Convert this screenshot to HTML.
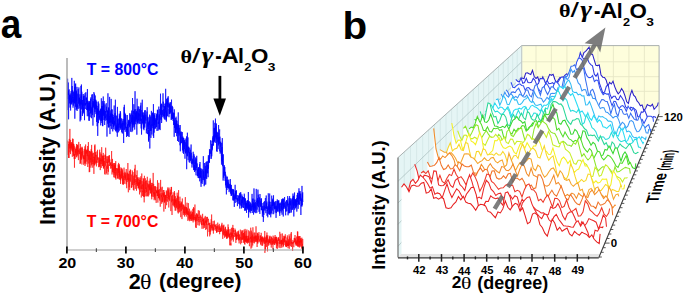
<!DOCTYPE html>
<html><head><meta charset="utf-8"><style>
html,body{margin:0;padding:0;background:#fff;width:685px;height:296px;overflow:hidden}
svg{display:block}
text{font-family:"Liberation Sans",sans-serif;font-weight:bold}
.sf{font-family:"Liberation Serif",serif}
</style></head><body>
<svg width="685" height="296" viewBox="0 0 685 296">
<g fill="none" stroke-width="0.7" stroke-linejoin="miter">
<polyline points="67.50,143.6 67.62,140.6 67.74,146.9 67.86,150.8 67.98,154.9 68.10,149.1 68.22,145.3 68.34,144.0 68.46,152.9 68.58,158.0 68.70,150.2 68.82,141.6 68.94,143.2 69.06,158.0 69.18,150.0 69.30,138.9 69.42,148.4 69.54,142.3 69.66,145.4 69.78,146.3 69.90,128.9 70.02,152.4 70.14,148.8 70.26,145.8 70.38,151.7 70.50,154.1 70.62,139.9 70.74,148.0 70.86,143.8 70.98,148.5 71.10,142.1 71.22,149.7 71.34,149.5 71.46,148.0 71.58,143.7 71.70,147.5 71.82,143.6 71.94,142.1 72.06,151.2 72.18,143.6 72.30,156.8 72.42,154.2 72.54,138.6 72.66,151.7 72.78,143.9 72.90,150.5 73.02,150.6 73.14,138.9 73.26,149.1 73.38,149.0 73.50,156.1 73.62,143.7 73.74,154.9 73.86,144.3 73.98,148.8 74.10,145.9 74.22,159.1 74.34,154.1 74.46,167.7 74.58,154.6 74.70,155.8 74.82,155.9 74.94,147.6 75.06,150.7 75.18,158.9 75.30,148.9 75.42,152.3 75.54,151.2 75.66,154.8 75.78,149.3 75.90,150.5 76.02,152.9 76.14,152.1 76.26,146.6 76.38,156.8 76.50,144.2 76.62,144.8 76.74,144.3 76.86,157.4 76.98,149.8 77.10,146.3 77.22,145.4 77.34,154.4 77.46,145.9 77.58,144.7 77.70,155.7 77.82,145.3 77.94,150.3 78.06,152.2 78.18,149.7 78.30,152.0 78.42,160.1 78.54,149.5 78.66,145.2 78.78,141.9 78.90,151.4 79.02,150.6 79.14,154.2 79.26,150.0 79.38,150.0 79.50,148.6 79.62,149.9 79.74,153.8 79.86,150.7 79.98,153.6 80.10,164.0 80.22,155.8 80.34,144.0 80.46,163.2 80.58,155.2 80.70,147.8 80.82,158.5 80.94,153.4 81.06,149.8 81.18,149.8 81.30,147.7 81.42,153.8 81.54,159.7 81.66,151.7 81.78,156.1 81.90,164.5 82.02,146.7 82.14,155.2 82.26,152.0 82.38,147.7 82.50,148.0 82.62,153.8 82.74,156.5 82.86,150.9 82.98,154.4 83.10,158.3 83.22,155.8 83.34,159.2 83.46,156.9 83.58,157.1 83.70,164.8 83.82,157.9 83.94,155.1 84.06,158.5 84.18,149.2 84.30,152.6 84.42,159.1 84.54,158.2 84.66,163.6 84.78,154.7 84.90,146.3 85.02,166.0 85.14,161.1 85.26,148.7 85.38,162.8 85.50,155.1 85.62,144.5 85.74,152.6 85.86,152.1 85.98,164.3 86.10,150.6 86.22,153.7 86.34,153.6 86.46,153.1 86.58,150.0 86.70,156.6 86.82,161.6 86.94,159.0 87.06,150.1 87.18,148.9 87.30,156.2 87.42,151.5 87.54,152.0 87.66,146.0 87.78,167.0 87.90,161.1 88.02,150.2 88.14,161.1 88.26,163.6 88.38,142.1 88.50,152.8 88.62,153.8 88.74,159.8 88.86,155.4 88.98,154.8 89.10,155.8 89.22,172.2 89.34,168.7 89.46,153.3 89.58,151.0 89.70,171.9 89.82,150.8 89.94,153.2 90.06,156.7 90.18,159.4 90.30,162.5 90.42,158.9 90.54,151.7 90.66,159.7 90.78,158.2 90.90,167.7 91.02,156.8 91.14,149.2 91.26,150.9 91.38,165.4 91.50,153.9 91.62,144.9 91.74,153.8 91.86,157.2 91.98,164.1 92.10,151.4 92.22,161.1 92.34,161.9 92.46,153.3 92.58,156.3 92.70,167.7 92.82,167.4 92.94,162.5 93.06,159.5 93.18,164.2 93.30,156.8 93.42,157.1 93.54,152.8 93.66,157.8 93.78,157.3 93.90,173.9 94.02,156.8 94.14,165.3 94.26,165.6 94.38,157.0 94.50,164.8 94.62,145.5 94.74,158.7 94.86,163.2 94.98,144.4 95.10,151.6 95.22,164.4 95.34,156.9 95.46,152.1 95.58,156.3 95.70,155.4 95.82,162.7 95.94,161.2 96.06,157.0 96.18,154.8 96.30,158.4 96.42,166.4 96.54,160.8 96.66,162.5 96.78,158.0 96.90,151.5 97.02,154.9 97.14,162.8 97.26,159.6 97.38,153.9 97.50,149.8 97.62,159.8 97.74,157.2 97.86,157.2 97.98,157.4 98.10,161.0 98.22,161.1 98.34,165.0 98.46,164.8 98.58,167.2 98.70,164.2 98.82,157.6 98.94,159.3 99.06,162.5 99.18,157.9 99.30,162.9 99.42,166.5 99.54,155.2 99.66,149.7 99.78,166.8 99.90,160.1 100.02,164.1 100.14,152.4 100.26,170.1 100.38,164.5 100.50,159.5 100.62,158.3 100.74,161.0 100.86,159.5 100.98,158.9 101.10,154.1 101.22,167.9 101.34,160.4 101.46,161.2 101.58,161.3 101.70,147.2 101.82,164.0 101.94,159.1 102.06,159.4 102.18,161.5 102.30,155.5 102.42,166.1 102.54,157.3 102.66,156.1 102.78,156.4 102.90,162.4 103.02,165.8 103.14,158.1 103.26,152.9 103.38,167.8 103.50,155.6 103.62,168.7 103.74,161.6 103.86,157.9 103.98,158.3 104.10,164.7 104.22,167.2 104.34,161.0 104.46,167.7 104.58,174.3 104.70,161.1 104.82,155.8 104.94,156.4 105.06,154.5 105.18,158.9 105.30,158.5 105.42,155.1 105.54,165.8 105.66,147.7 105.78,155.3 105.90,174.6 106.02,169.0 106.14,166.1 106.26,165.8 106.38,173.4 106.50,166.3 106.62,163.8 106.74,156.3 106.86,163.0 106.98,159.3 107.10,159.5 107.22,159.5 107.34,163.4 107.46,161.8 107.58,168.8 107.70,156.2 107.82,162.9 107.94,174.7 108.06,164.3 108.18,171.0 108.30,170.7 108.42,171.8 108.54,168.5 108.66,156.4 108.78,162.8 108.90,162.3 109.02,155.6 109.14,161.9 109.26,157.4 109.38,155.1 109.50,166.0 109.62,164.6 109.74,160.9 109.86,159.4 109.98,161.9 110.10,162.8 110.22,162.8 110.34,165.0 110.46,162.9 110.58,167.7 110.70,168.6 110.82,167.7 110.94,162.0 111.06,162.3 111.18,168.4 111.30,164.9 111.42,165.9 111.54,152.0 111.66,151.0 111.78,168.3 111.90,168.4 112.02,174.5 112.14,170.8 112.26,168.1 112.38,167.0 112.50,158.9 112.62,172.1 112.74,163.8 112.86,170.1 112.98,168.5 113.10,169.0 113.22,172.6 113.34,164.9 113.46,165.6 113.58,163.1 113.70,165.9 113.82,177.3 113.94,166.1 114.06,174.8 114.18,172.9 114.30,172.5 114.42,173.0 114.54,163.0 114.66,170.8 114.78,177.6 114.90,165.1 115.02,168.8 115.14,165.3 115.26,171.0 115.38,163.4 115.50,178.2 115.62,167.4 115.74,161.1 115.86,179.5 115.98,175.1 116.10,172.7 116.22,172.9 116.34,168.1 116.46,169.0 116.58,174.2 116.70,175.3 116.82,175.5 116.94,171.7 117.06,168.1 117.18,169.7 117.30,176.8 117.42,178.7 117.54,169.2 117.66,168.6 117.78,177.9 117.90,175.2 118.02,175.1 118.14,164.5 118.26,169.6 118.38,169.0 118.50,172.9 118.62,162.9 118.74,178.8 118.86,173.7 118.98,174.5 119.10,166.0 119.22,172.2 119.34,179.5 119.46,164.3 119.58,174.3 119.70,176.4 119.82,169.2 119.94,177.2 120.06,171.3 120.18,179.6 120.30,176.0 120.42,174.5 120.54,183.9 120.66,177.8 120.78,180.4 120.90,167.4 121.02,170.3 121.14,178.2 121.26,178.6 121.38,173.7 121.50,178.1 121.62,168.6 121.74,175.3 121.86,168.3 121.98,176.2 122.10,171.9 122.22,171.2 122.34,174.9 122.46,184.3 122.58,169.5 122.70,171.7 122.82,180.6 122.94,172.8 123.06,184.4 123.18,176.4 123.30,175.8 123.42,177.3 123.54,184.6 123.66,179.0 123.78,178.4 123.90,177.1 124.02,167.6 124.14,171.3 124.26,183.8 124.38,180.4 124.50,178.8 124.62,179.6 124.74,173.5 124.86,178.2 124.98,171.8 125.10,178.6 125.22,172.9 125.34,175.6 125.46,179.2 125.58,175.2 125.70,180.4 125.82,179.5 125.94,179.0 126.06,184.2 126.18,169.6 126.30,169.0 126.42,180.7 126.54,182.5 126.66,188.2 126.78,181.7 126.90,182.2 127.02,173.3 127.14,181.9 127.26,181.6 127.38,172.6 127.50,173.5 127.62,177.8 127.74,179.9 127.86,163.0 127.98,179.0 128.10,179.9 128.22,177.8 128.34,192.3 128.46,181.3 128.58,173.7 128.70,181.3 128.82,177.9 128.94,174.3 129.06,180.4 129.18,187.2 129.30,171.8 129.42,170.9 129.54,171.0 129.66,190.1 129.78,178.5 129.90,179.6 130.02,175.9 130.14,175.1 130.26,169.5 130.38,181.0 130.50,181.6 130.62,169.9 130.74,174.8 130.86,176.4 130.98,180.3 131.10,181.7 131.22,186.4 131.34,187.7 131.46,186.2 131.58,187.7 131.70,174.6 131.82,177.8 131.94,186.8 132.06,182.3 132.18,181.0 132.30,170.5 132.42,171.2 132.54,184.9 132.66,182.9 132.78,179.6 132.90,179.0 133.02,172.1 133.14,183.2 133.26,186.7 133.38,190.0 133.50,181.7 133.62,180.4 133.74,175.7 133.86,188.0 133.98,190.6 134.10,178.4 134.22,183.2 134.34,182.2 134.46,178.8 134.58,168.7 134.70,180.0 134.82,185.1 134.94,174.4 135.06,177.6 135.18,164.8 135.30,188.9 135.42,184.8 135.54,182.5 135.66,180.8 135.78,179.0 135.90,181.9 136.02,180.8 136.14,181.2 136.26,182.3 136.38,183.2 136.50,190.7 136.62,175.0 136.74,184.1 136.86,179.5 136.98,176.8 137.10,170.4 137.22,186.1 137.34,177.7 137.46,179.0 137.58,185.4 137.70,177.3 137.82,183.2 137.94,182.7 138.06,187.4 138.18,188.5 138.30,178.7 138.42,188.1 138.54,182.9 138.66,184.1 138.78,182.3 138.90,187.6 139.02,177.2 139.14,185.0 139.26,189.8 139.38,182.2 139.50,194.4 139.62,179.9 139.74,185.0 139.86,181.4 139.98,180.7 140.10,178.1 140.22,181.2 140.34,183.8 140.46,180.0 140.58,188.9 140.70,192.3 140.82,176.3 140.94,188.8 141.06,185.5 141.18,185.8 141.30,197.5 141.42,191.0 141.54,186.5 141.66,185.7 141.78,173.5 141.90,189.0 142.02,181.1 142.14,186.0 142.26,185.6 142.38,190.2 142.50,195.9 142.62,190.5 142.74,192.1 142.86,184.2 142.98,187.9 143.10,189.6 143.22,178.1 143.34,196.4 143.46,182.0 143.58,179.1 143.70,194.4 143.82,197.0 143.94,182.3 144.06,182.8 144.18,202.4 144.30,186.7 144.42,175.8 144.54,183.1 144.66,196.8 144.78,189.9 144.90,190.4 145.02,192.9 145.14,190.1 145.26,184.9 145.38,178.3 145.50,189.1 145.62,181.0 145.74,186.6 145.86,196.2 145.98,189.8 146.10,187.4 146.22,187.5 146.34,191.0 146.46,192.1 146.58,180.4 146.70,188.3 146.82,196.4 146.94,191.4 147.06,183.5 147.18,184.0 147.30,176.8 147.42,183.5 147.54,196.2 147.66,187.5 147.78,183.4 147.90,184.9 148.02,187.4 148.14,187.5 148.26,186.3 148.38,184.2 148.50,191.6 148.62,196.4 148.74,185.4 148.86,185.6 148.98,194.7 149.10,180.9 149.22,185.5 149.34,186.7 149.46,189.6 149.58,187.3 149.70,184.2 149.82,190.5 149.94,182.7 150.06,179.9 150.18,178.4 150.30,193.1 150.42,180.1 150.54,191.6 150.66,192.9 150.78,193.6 150.90,188.5 151.02,186.6 151.14,190.0 151.26,186.5 151.38,182.9 151.50,196.3 151.62,185.1 151.74,199.3 151.86,192.6 151.98,187.6 152.10,192.3 152.22,196.6 152.34,182.9 152.46,185.4 152.58,184.8 152.70,191.2 152.82,192.5 152.94,190.6 153.06,186.7 153.18,172.9 153.30,196.9 153.42,196.6 153.54,191.5 153.66,183.9 153.78,194.2 153.90,192.5 154.02,192.3 154.14,200.2 154.26,195.4 154.38,186.1 154.50,186.2 154.62,198.6 154.74,192.5 154.86,196.1 154.98,190.9 155.10,186.6 155.22,193.3 155.34,200.2 155.46,193.8 155.58,186.2 155.70,190.6 155.82,189.7 155.94,193.3 156.06,197.8 156.18,202.9 156.30,193.8 156.42,190.4 156.54,193.2 156.66,192.9 156.78,190.7 156.90,193.1 157.02,193.0 157.14,186.9 157.26,196.0 157.38,191.3 157.50,180.2 157.62,195.9 157.74,190.8 157.86,202.6 157.98,196.0 158.10,193.9 158.22,189.6 158.34,191.5 158.46,198.1 158.58,190.1 158.70,197.8 158.82,182.8 158.94,194.9 159.06,198.2 159.18,195.8 159.30,194.0 159.42,199.4 159.54,189.7 159.66,189.1 159.78,194.8 159.90,200.7 160.02,196.7 160.14,193.4 160.26,206.7 160.38,196.9 160.50,188.1 160.62,179.9 160.74,189.3 160.86,186.9 160.98,191.7 161.10,188.5 161.22,190.3 161.34,197.2 161.46,195.5 161.58,194.9 161.70,203.8 161.82,192.7 161.94,193.2 162.06,201.9 162.18,189.5 162.30,186.8 162.42,202.3 162.54,197.3 162.66,198.7 162.78,199.0 162.90,200.4 163.02,193.2 163.14,195.4 163.26,190.0 163.38,196.6 163.50,197.2 163.62,193.6 163.74,199.6 163.86,211.6 163.98,190.1 164.10,200.6 164.22,201.3 164.34,202.0 164.46,192.2 164.58,202.8 164.70,200.0 164.82,196.0 164.94,194.9 165.06,198.0 165.18,201.7 165.30,201.5 165.42,208.9 165.54,195.1 165.66,200.3 165.78,194.9 165.90,201.3 166.02,197.9 166.14,194.1 166.26,190.4 166.38,193.3 166.50,198.7 166.62,205.2 166.74,201.6 166.86,191.3 166.98,195.0 167.10,197.8 167.22,196.9 167.34,197.9 167.46,201.7 167.58,198.7 167.70,193.9 167.82,187.4 167.94,195.8 168.06,188.8 168.18,196.7 168.30,199.2 168.42,190.5 168.54,196.8 168.66,195.7 168.78,207.5 168.90,199.9 169.02,187.6 169.14,199.9 169.26,199.7 169.38,196.5 169.50,195.6 169.62,200.8 169.74,201.1 169.86,199.9 169.98,192.5 170.10,196.4 170.22,189.6 170.34,190.0 170.46,195.0 170.58,192.5 170.70,195.9 170.82,211.1 170.94,200.8 171.06,193.6 171.18,187.0 171.30,194.0 171.42,190.9 171.54,186.9 171.66,202.3 171.78,196.1 171.90,201.0 172.02,215.0 172.14,200.3 172.26,199.5 172.38,200.8 172.50,197.7 172.62,194.8 172.74,198.1 172.86,205.3 172.98,198.0 173.10,192.3 173.22,193.1 173.34,194.3 173.46,199.9 173.58,202.4 173.70,202.5 173.82,206.3 173.94,199.1 174.06,204.7 174.18,202.2 174.30,204.3 174.42,191.0 174.54,207.4 174.66,192.8 174.78,195.1 174.90,205.3 175.02,199.2 175.14,210.7 175.26,202.3 175.38,196.2 175.50,202.5 175.62,199.7 175.74,210.1 175.86,210.6 175.98,206.0 176.10,200.1 176.22,202.7 176.34,207.9 176.46,198.3 176.58,198.4 176.70,207.1 176.82,206.6 176.94,201.6 177.06,201.5 177.18,192.7 177.30,209.3 177.42,202.5 177.54,195.7 177.66,197.4 177.78,198.7 177.90,212.4 178.02,207.2 178.14,196.7 178.26,213.5 178.38,210.9 178.50,198.4 178.62,190.1 178.74,209.2 178.86,201.0 178.98,203.6 179.10,201.6 179.22,211.1 179.34,212.3 179.46,208.9 179.58,203.9 179.70,206.2 179.82,208.1 179.94,196.7 180.06,211.6 180.18,203.5 180.30,206.6 180.42,206.1 180.54,210.2 180.66,211.2 180.78,217.2 180.90,204.0 181.02,201.3 181.14,206.8 181.26,202.8 181.38,210.8 181.50,202.3 181.62,207.2 181.74,211.5 181.86,212.0 181.98,219.1 182.10,214.3 182.22,213.7 182.34,198.5 182.46,209.2 182.58,208.4 182.70,206.1 182.82,204.4 182.94,208.0 183.06,209.9 183.18,209.4 183.30,215.1 183.42,213.3 183.54,205.4 183.66,204.6 183.78,212.9 183.90,205.2 184.02,209.6 184.14,211.3 184.26,214.2 184.38,211.7 184.50,216.5 184.62,207.1 184.74,212.8 184.86,206.3 184.98,210.6 185.10,210.4 185.22,205.3 185.34,197.1 185.46,214.9 185.58,212.0 185.70,211.0 185.82,207.0 185.94,208.9 186.06,212.9 186.18,210.9 186.30,216.6 186.42,211.6 186.54,207.1 186.66,214.2 186.78,208.2 186.90,212.5 187.02,202.7 187.14,209.9 187.26,214.4 187.38,208.6 187.50,211.8 187.62,214.9 187.74,212.4 187.86,220.9 187.98,211.1 188.10,211.6 188.22,211.8 188.34,203.1 188.46,205.4 188.58,215.4 188.70,211.4 188.82,219.7 188.94,212.8 189.06,212.5 189.18,218.3 189.30,214.8 189.42,221.2 189.54,208.7 189.66,215.9 189.78,217.2 189.90,216.7 190.02,219.6 190.14,219.1 190.26,214.5 190.38,211.7 190.50,219.0 190.62,214.7 190.74,219.1 190.86,221.0 190.98,215.7 191.10,210.6 191.22,213.7 191.34,218.7 191.46,214.0 191.58,220.6 191.70,215.4 191.82,215.9 191.94,212.5 192.06,215.0 192.18,220.6 192.30,214.0 192.42,214.1 192.54,212.1 192.66,219.3 192.78,208.8 192.90,212.8 193.02,220.0 193.14,222.4 193.26,214.9 193.38,220.4 193.50,207.1 193.62,219.5 193.74,217.5 193.86,210.7 193.98,208.2 194.10,214.0 194.22,217.6 194.34,218.1 194.46,217.0 194.58,220.0 194.70,219.7 194.82,210.5 194.94,204.5 195.06,214.5 195.18,221.4 195.30,214.7 195.42,221.4 195.54,217.4 195.66,227.5 195.78,216.9 195.90,217.2 196.02,216.8 196.14,218.0 196.26,228.0 196.38,215.2 196.50,213.7 196.62,216.7 196.74,220.5 196.86,213.3 196.98,221.2 197.10,221.1 197.22,217.1 197.34,216.8 197.46,214.5 197.58,216.8 197.70,214.6 197.82,223.5 197.94,225.2 198.06,217.0 198.18,218.1 198.30,210.2 198.42,216.1 198.54,219.9 198.66,219.7 198.78,219.1 198.90,222.2 199.02,219.0 199.14,217.1 199.26,225.6 199.38,210.7 199.50,214.0 199.62,215.8 199.74,215.9 199.86,215.8 199.98,218.2 200.10,216.2 200.22,219.0 200.34,221.8 200.46,219.5 200.58,220.0 200.70,215.6 200.82,214.8 200.94,218.4 201.06,223.5 201.18,221.3 201.30,224.3 201.42,224.0 201.54,224.6 201.66,216.7 201.78,225.2 201.90,223.3 202.02,228.8 202.14,222.8 202.26,221.7 202.38,219.9 202.50,221.2 202.62,213.8 202.74,219.7 202.86,220.6 202.98,224.9 203.10,218.2 203.22,221.5 203.34,228.6 203.46,219.0 203.58,224.7 203.70,219.1 203.82,220.9 203.94,223.3 204.06,225.1 204.18,219.5 204.30,217.5 204.42,227.9 204.54,222.5 204.66,225.1 204.78,225.6 204.90,225.1 205.02,221.0 205.14,221.6 205.26,215.9 205.38,223.0 205.50,220.5 205.62,222.3 205.74,230.0 205.86,225.3 205.98,222.9 206.10,217.2 206.22,225.7 206.34,229.0 206.46,219.6 206.58,224.7 206.70,221.0 206.82,222.5 206.94,221.8 207.06,216.8 207.18,221.3 207.30,217.0 207.42,229.0 207.54,236.4 207.66,233.0 207.78,224.8 207.90,224.0 208.02,224.6 208.14,224.7 208.26,223.1 208.38,223.4 208.50,218.8 208.62,220.3 208.74,221.9 208.86,225.2 208.98,223.0 209.10,232.0 209.22,223.8 209.34,223.3 209.46,226.4 209.58,228.8 209.70,236.4 209.82,228.8 209.94,222.7 210.06,224.4 210.18,229.2 210.30,234.5 210.42,228.4 210.54,225.0 210.66,231.6 210.78,231.0 210.90,229.8 211.02,226.1 211.14,219.3 211.26,220.4 211.38,226.9 211.50,228.2 211.62,214.5 211.74,224.0 211.86,230.3 211.98,229.6 212.10,224.0 212.22,228.4 212.34,226.2 212.46,225.3 212.58,230.4 212.70,230.5 212.82,224.2 212.94,222.7 213.06,221.4 213.18,221.0 213.30,231.5 213.42,233.6 213.54,227.3 213.66,230.6 213.78,224.1 213.90,226.4 214.02,230.2 214.14,228.0 214.26,226.7 214.38,220.6 214.50,221.5 214.62,225.4 214.74,225.0 214.86,226.8 214.98,224.8 215.10,226.4 215.22,227.5 215.34,229.2 215.46,227.6 215.58,225.3 215.70,226.4 215.82,230.8 215.94,226.8 216.06,224.0 216.18,223.9 216.30,228.7 216.42,229.8 216.54,232.3 216.66,226.6 216.78,232.9 216.90,226.6 217.02,227.1 217.14,225.9 217.26,229.9 217.38,231.9 217.50,228.0 217.62,226.3 217.74,222.6 217.86,228.8 217.98,227.0 218.10,227.6 218.22,226.1 218.34,225.3 218.46,226.9 218.58,230.1 218.70,232.0 218.82,228.6 218.94,229.8 219.06,228.0 219.18,228.3 219.30,223.9 219.42,232.0 219.54,231.0 219.66,234.2 219.78,226.8 219.90,229.5 220.02,225.8 220.14,230.0 220.26,228.8 220.38,231.7 220.50,228.8 220.62,231.7 220.74,227.7 220.86,231.6 220.98,228.5 221.10,228.1 221.22,230.0 221.34,231.1 221.46,224.8 221.58,224.5 221.70,230.6 221.82,229.8 221.94,222.8 222.06,224.0 222.18,227.4 222.30,231.4 222.42,231.0 222.54,233.9 222.66,234.6 222.78,238.9 222.90,225.4 223.02,230.5 223.14,234.5 223.26,226.3 223.38,225.8 223.50,231.5 223.62,234.8 223.74,235.4 223.86,224.7 223.98,226.8 224.10,230.8 224.22,229.3 224.34,232.4 224.46,231.8 224.58,237.7 224.70,231.2 224.82,232.2 224.94,231.8 225.06,235.6 225.18,227.7 225.30,233.1 225.42,229.1 225.54,226.8 225.66,236.2 225.78,233.9 225.90,237.1 226.02,233.0 226.14,234.5 226.26,232.8 226.38,234.4 226.50,230.9 226.62,238.6 226.74,229.4 226.86,238.7 226.98,231.9 227.10,235.8 227.22,233.3 227.34,234.4 227.46,238.2 227.58,233.5 227.70,229.7 227.82,234.0 227.94,235.5 228.06,224.4 228.18,236.8 228.30,237.3 228.42,227.1 228.54,232.9 228.66,236.5 228.78,229.4 228.90,232.1 229.02,232.5 229.14,235.8 229.26,237.8 229.38,233.8 229.50,234.2 229.62,237.3 229.74,245.3 229.86,233.7 229.98,239.0 230.10,229.1 230.22,234.8 230.34,232.8 230.46,232.5 230.58,235.1 230.70,244.9 230.82,243.3 230.94,245.6 231.06,235.7 231.18,240.5 231.30,238.2 231.42,227.8 231.54,235.0 231.66,237.3 231.78,232.5 231.90,235.8 232.02,233.1 232.14,236.1 232.26,228.9 232.38,227.7 232.50,232.8 232.62,235.7 232.74,239.7 232.86,224.9 232.98,232.2 233.10,238.3 233.22,235.1 233.34,241.6 233.46,234.7 233.58,228.0 233.70,232.2 233.82,231.7 233.94,230.1 234.06,232.4 234.18,232.7 234.30,234.2 234.42,233.3 234.54,236.8 234.66,236.8 234.78,236.0 234.90,236.1 235.02,228.6 235.14,229.4 235.26,232.3 235.38,236.5 235.50,230.2 235.62,234.1 235.74,236.5 235.86,242.9 235.98,236.6 236.10,233.8 236.22,239.7 236.34,236.5 236.46,234.7 236.58,239.9 236.70,232.5 236.82,236.6 236.94,236.2 237.06,239.2 237.18,231.8 237.30,231.3 237.42,234.6 237.54,235.0 237.66,236.2 237.78,234.7 237.90,237.7 238.02,238.7 238.14,237.0 238.26,232.4 238.38,240.4 238.50,230.7 238.62,235.5 238.74,239.6 238.86,234.1 238.98,241.1 239.10,243.4 239.22,242.2 239.34,238.0 239.46,240.1 239.58,234.6 239.70,238.0 239.82,238.2 239.94,237.0 240.06,237.2 240.18,235.9 240.30,229.6 240.42,238.2 240.54,237.9 240.66,244.3 240.78,239.4 240.90,237.1 241.02,240.1 241.14,239.2 241.26,236.9 241.38,235.6 241.50,231.7 241.62,237.5 241.74,243.0 241.86,230.3 241.98,233.7 242.10,240.0 242.22,237.9 242.34,238.8 242.46,230.5 242.58,235.2 242.70,239.2 242.82,239.5 242.94,238.5 243.06,234.2 243.18,239.5 243.30,233.1 243.42,234.1 243.54,233.3 243.66,242.9 243.78,236.1 243.90,237.9 244.02,229.7 244.14,241.7 244.26,239.5 244.38,231.7 244.50,232.0 244.62,243.9 244.74,234.4 244.86,244.7 244.98,236.2 245.10,228.9 245.22,242.0 245.34,239.8 245.46,240.5 245.58,236.2 245.70,237.2 245.82,241.5 245.94,235.0 246.06,230.8 246.18,241.4 246.30,235.8 246.42,242.8 246.54,236.3 246.66,236.5 246.78,237.2 246.90,229.5 247.02,242.5 247.14,235.9 247.26,237.5 247.38,243.6 247.50,238.6 247.62,241.5 247.74,239.5 247.86,241.1 247.98,239.3 248.10,242.5 248.22,237.5 248.34,240.0 248.46,235.7 248.58,242.7 248.70,230.3 248.82,239.0 248.94,239.7 249.06,239.6 249.18,238.3 249.30,243.3 249.42,246.2 249.54,236.2 249.66,231.4 249.78,234.4 249.90,235.5 250.02,238.0 250.14,238.3 250.26,242.4 250.38,236.9 250.50,238.4 250.62,238.9 250.74,227.7 250.86,237.4 250.98,248.7 251.10,238.2 251.22,235.0 251.34,230.6 251.46,242.4 251.58,237.4 251.70,236.3 251.82,247.6 251.94,243.9 252.06,232.4 252.18,237.4 252.30,242.3 252.42,241.8 252.54,234.6 252.66,245.2 252.78,245.5 252.90,227.3 253.02,232.3 253.14,233.6 253.26,241.2 253.38,242.7 253.50,239.5 253.62,236.6 253.74,238.5 253.86,240.9 253.98,234.4 254.10,232.6 254.22,238.5 254.34,243.4 254.46,239.6 254.58,239.6 254.70,236.4 254.82,242.3 254.94,232.6 255.06,238.7 255.18,236.7 255.30,238.4 255.42,235.5 255.54,241.7 255.66,238.7 255.78,236.8 255.90,240.9 256.02,226.3 256.14,237.1 256.26,236.8 256.38,241.9 256.50,235.6 256.62,238.2 256.74,238.1 256.86,240.2 256.98,238.4 257.10,247.0 257.22,232.7 257.34,241.3 257.46,239.0 257.58,243.2 257.70,233.2 257.82,243.6 257.94,234.1 258.06,241.7 258.18,241.1 258.30,239.3 258.42,236.5 258.54,236.2 258.66,239.6 258.78,236.5 258.90,232.1 259.02,232.6 259.14,242.2 259.26,242.3 259.38,241.2 259.50,239.5 259.62,240.7 259.74,241.2 259.86,240.3 259.98,236.5 260.10,236.7 260.22,235.2 260.34,240.0 260.46,235.8 260.58,238.9 260.70,244.3 260.82,238.1 260.94,243.1 261.06,245.2 261.18,232.8 261.30,234.3 261.42,241.3 261.54,236.9 261.66,241.5 261.78,242.2 261.90,237.7 262.02,242.6 262.14,246.0 262.26,243.1 262.38,236.4 262.50,239.1 262.62,237.7 262.74,245.4 262.86,239.0 262.98,237.2 263.10,239.9 263.22,241.6 263.34,238.4 263.46,240.2 263.58,239.8 263.70,242.5 263.82,243.4 263.94,240.8 264.06,238.1 264.18,241.3 264.30,236.6 264.42,243.8 264.54,241.2 264.66,240.8 264.78,231.0 264.90,252.9 265.02,245.3 265.14,244.6 265.26,240.4 265.38,242.5 265.50,250.5 265.62,237.5 265.74,242.8 265.86,242.3 265.98,240.6 266.10,241.4 266.22,236.5 266.34,242.5 266.46,235.3 266.58,246.9 266.70,243.1 266.82,237.1 266.94,232.5 267.06,240.6 267.18,242.1 267.30,236.6 267.42,246.5 267.54,251.4 267.66,238.6 267.78,235.2 267.90,239.9 268.02,239.6 268.14,242.8 268.26,244.3 268.38,240.5 268.50,242.1 268.62,245.7 268.74,242.7 268.86,239.5 268.98,242.7 269.10,238.6 269.22,242.1 269.34,240.7 269.46,236.5 269.58,242.7 269.70,240.8 269.82,243.2 269.94,235.7 270.06,244.6 270.18,244.8 270.30,239.3 270.42,240.2 270.54,240.7 270.66,240.5 270.78,243.6 270.90,238.0 271.02,236.4 271.14,239.7 271.26,247.6 271.38,239.1 271.50,236.9 271.62,237.2 271.74,241.2 271.86,244.9 271.98,237.9 272.10,241.2 272.22,241.4 272.34,242.3 272.46,241.1 272.58,244.5 272.70,243.1 272.82,238.4 272.94,249.5 273.06,235.6 273.18,235.8 273.30,244.4 273.42,241.3 273.54,239.7 273.66,241.4 273.78,243.2 273.90,239.1 274.02,238.4 274.14,236.8 274.26,237.5 274.38,237.8 274.50,244.9 274.62,241.7 274.74,242.7 274.86,238.7 274.98,244.6 275.10,235.0 275.22,242.5 275.34,243.3 275.46,238.6 275.58,237.0 275.70,242.7 275.82,238.2 275.94,237.5 276.06,240.7 276.18,236.7 276.30,240.3 276.42,248.3 276.54,239.2 276.66,244.2 276.78,237.0 276.90,241.2 277.02,239.9 277.14,240.3 277.26,243.7 277.38,248.8 277.50,240.4 277.62,245.7 277.74,242.2 277.86,243.6 277.98,239.2 278.10,238.3 278.22,240.2 278.34,238.1 278.46,240.9 278.58,237.1 278.70,241.0 278.82,241.6 278.94,247.7 279.06,247.3 279.18,242.9 279.30,239.2 279.42,243.3 279.54,244.0 279.66,240.3 279.78,231.8 279.90,234.5 280.02,240.9 280.14,248.1 280.26,240.3 280.38,242.5 280.50,242.4 280.62,242.9 280.74,244.0 280.86,233.8 280.98,240.6 281.10,242.5 281.22,240.8 281.34,245.6 281.46,239.8 281.58,244.6 281.70,247.7 281.82,240.3 281.94,241.3 282.06,240.2 282.18,244.1 282.30,233.4 282.42,235.9 282.54,240.2 282.66,244.5 282.78,243.5 282.90,238.3 283.02,247.2 283.14,241.8 283.26,239.1 283.38,243.3 283.50,246.2 283.62,241.1 283.74,235.8 283.86,239.4 283.98,241.8 284.10,244.9 284.22,237.8 284.34,242.4 284.46,237.1 284.58,241.8 284.70,236.6 284.82,239.8 284.94,235.9 285.06,237.9 285.18,235.7 285.30,234.3 285.42,246.0 285.54,245.9 285.66,243.3 285.78,240.2 285.90,247.0 286.02,240.5 286.14,243.2 286.26,245.8 286.38,242.4 286.50,247.1 286.62,241.1 286.74,241.1 286.86,242.2 286.98,237.4 287.10,237.7 287.22,244.6 287.34,235.4 287.46,245.9 287.58,242.7 287.70,246.1 287.82,244.6 287.94,244.0 288.06,248.2 288.18,241.5 288.30,241.4 288.42,246.0 288.54,239.4 288.66,246.0 288.78,244.4 288.90,240.0 289.02,237.2 289.14,234.4 289.26,248.8 289.38,236.4 289.50,237.4 289.62,245.1 289.74,243.6 289.86,242.6 289.98,242.2 290.10,240.3 290.22,238.5 290.34,239.2 290.46,244.1 290.58,245.9 290.70,246.2 290.82,241.8 290.94,233.6 291.06,243.8 291.18,241.4 291.30,232.0 291.42,247.0 291.54,242.8 291.66,241.7 291.78,242.7 291.90,242.4 292.02,242.9 292.14,242.4 292.26,242.1 292.38,244.1 292.50,243.3 292.62,250.9 292.74,242.6 292.86,240.2 292.98,239.9 293.10,243.5 293.22,242.6 293.34,243.1 293.46,241.4 293.58,241.5 293.70,245.0 293.82,247.2 293.94,243.5 294.06,241.8 294.18,237.9 294.30,237.9 294.42,242.4 294.54,241.3 294.66,241.8 294.78,238.1 294.90,241.7 295.02,235.0 295.14,237.8 295.26,239.3 295.38,244.3 295.50,239.9 295.62,238.7 295.74,243.2 295.86,241.8 295.98,245.6 296.10,243.3 296.22,242.9 296.34,241.5 296.46,244.6 296.58,239.4 296.70,236.5 296.82,245.5 296.94,240.4 297.06,242.3 297.18,244.4 297.30,245.9 297.42,231.5 297.54,238.3 297.66,246.7 297.78,231.6 297.90,243.9 298.02,240.8 298.14,238.9 298.26,241.7 298.38,236.0 298.50,243.7 298.62,246.5 298.74,237.0 298.86,239.8 298.98,246.6 299.10,243.6 299.22,241.0 299.34,247.5 299.46,236.1 299.58,241.2 299.70,242.6 299.82,241.1 299.94,245.2 300.06,236.1 300.18,242.4 300.30,239.3 300.42,246.6 300.54,246.0 300.66,239.4 300.78,238.0 300.90,241.9 301.02,238.8 301.14,239.9 301.26,243.5 301.38,240.2 301.50,248.6 301.62,242.1 301.74,239.9 301.86,237.7 301.98,239.8 302.10,245.8 302.22,243.7 302.34,246.9 302.46,246.4 302.58,243.6 302.70,239.0 302.82,241.0 302.94,252.8" stroke="#ff0808" stroke-width="0.6"/>
<polyline points="67.50,110.1 67.62,78.7 67.74,99.1 67.86,92.4 67.98,93.2 68.10,94.9 68.22,82.5 68.34,94.8 68.46,90.5 68.58,119.3 68.70,98.1 68.82,94.1 68.94,94.7 69.06,92.0 69.18,89.4 69.30,94.0 69.42,100.1 69.54,95.1 69.66,103.4 69.78,95.5 69.90,97.1 70.02,107.6 70.14,100.7 70.26,93.5 70.38,95.8 70.50,100.8 70.62,110.5 70.74,95.3 70.86,95.5 70.98,104.2 71.10,91.1 71.22,95.3 71.34,103.5 71.46,101.4 71.58,98.0 71.70,102.1 71.82,77.9 71.94,104.6 72.06,90.9 72.18,86.0 72.30,99.6 72.42,102.5 72.54,94.6 72.66,90.2 72.78,98.0 72.90,97.4 73.02,107.7 73.14,103.1 73.26,99.3 73.38,105.7 73.50,96.6 73.62,91.6 73.74,102.2 73.86,102.2 73.98,96.6 74.10,92.7 74.22,99.8 74.34,80.8 74.46,103.1 74.58,101.8 74.70,86.9 74.82,118.7 74.94,91.7 75.06,103.8 75.18,84.2 75.30,92.1 75.42,103.6 75.54,106.8 75.66,83.5 75.78,95.2 75.90,101.0 76.02,94.5 76.14,110.0 76.26,90.5 76.38,101.4 76.50,91.5 76.62,108.9 76.74,98.8 76.86,96.4 76.98,86.9 77.10,111.0 77.22,104.5 77.34,104.5 77.46,107.3 77.58,101.7 77.70,94.8 77.82,93.7 77.94,93.7 78.06,109.1 78.18,89.1 78.30,95.2 78.42,97.2 78.54,101.1 78.66,103.7 78.78,90.7 78.90,87.4 79.02,99.7 79.14,108.4 79.26,105.2 79.38,101.3 79.50,97.6 79.62,102.0 79.74,98.2 79.86,105.8 79.98,94.3 80.10,121.4 80.22,99.3 80.34,104.1 80.46,101.9 80.58,118.5 80.70,111.1 80.82,120.1 80.94,85.9 81.06,98.1 81.18,96.3 81.30,104.5 81.42,84.5 81.54,109.3 81.66,108.5 81.78,91.7 81.90,94.0 82.02,95.4 82.14,101.5 82.26,105.8 82.38,116.0 82.50,100.0 82.62,106.9 82.74,102.6 82.86,114.2 82.98,107.0 83.10,111.5 83.22,94.0 83.34,100.5 83.46,96.1 83.58,112.8 83.70,106.8 83.82,99.9 83.94,98.9 84.06,105.7 84.18,97.3 84.30,95.7 84.42,105.9 84.54,120.2 84.66,100.8 84.78,98.6 84.90,94.3 85.02,93.2 85.14,106.6 85.26,109.0 85.38,103.0 85.50,105.4 85.62,103.9 85.74,104.2 85.86,92.2 85.98,100.0 86.10,104.2 86.22,97.8 86.34,100.1 86.46,97.6 86.58,101.2 86.70,109.8 86.82,100.8 86.94,102.7 87.06,109.8 87.18,108.6 87.30,116.2 87.42,89.0 87.54,110.3 87.66,100.7 87.78,105.3 87.90,110.4 88.02,112.2 88.14,112.0 88.26,105.7 88.38,116.2 88.50,102.6 88.62,103.7 88.74,110.6 88.86,100.9 88.98,120.6 89.10,112.4 89.22,120.8 89.34,104.9 89.46,102.4 89.58,106.5 89.70,110.7 89.82,101.1 89.94,108.2 90.06,105.4 90.18,117.3 90.30,100.9 90.42,113.3 90.54,101.1 90.66,98.9 90.78,100.8 90.90,97.4 91.02,107.1 91.14,113.6 91.26,107.4 91.38,110.8 91.50,118.2 91.62,108.4 91.74,107.9 91.86,104.5 91.98,94.9 92.10,112.2 92.22,94.0 92.34,111.5 92.46,106.7 92.58,115.1 92.70,106.5 92.82,101.1 92.94,125.6 93.06,103.1 93.18,105.9 93.30,107.6 93.42,106.4 93.54,106.1 93.66,101.4 93.78,106.2 93.90,92.1 94.02,106.6 94.14,99.0 94.26,116.0 94.38,117.2 94.50,93.7 94.62,109.1 94.74,107.2 94.86,100.5 94.98,112.1 95.10,104.9 95.22,95.5 95.34,106.5 95.46,107.4 95.58,109.3 95.70,99.6 95.82,113.2 95.94,114.1 96.06,100.5 96.18,104.1 96.30,108.4 96.42,104.9 96.54,121.9 96.66,110.7 96.78,101.8 96.90,103.5 97.02,108.9 97.14,126.2 97.26,108.2 97.38,110.5 97.50,113.4 97.62,109.4 97.74,135.9 97.86,105.9 97.98,115.3 98.10,111.1 98.22,114.6 98.34,101.5 98.46,123.1 98.58,109.3 98.70,110.5 98.82,103.5 98.94,105.1 99.06,114.6 99.18,117.8 99.30,116.1 99.42,119.6 99.54,116.0 99.66,111.0 99.78,117.0 99.90,115.3 100.02,110.3 100.14,116.4 100.26,120.6 100.38,113.0 100.50,108.7 100.62,116.7 100.74,125.4 100.86,110.0 100.98,110.9 101.10,110.7 101.22,120.7 101.34,98.3 101.46,114.6 101.58,120.7 101.70,106.0 101.82,123.0 101.94,116.1 102.06,108.2 102.18,113.8 102.30,101.1 102.42,108.3 102.54,126.0 102.66,106.0 102.78,126.2 102.90,112.1 103.02,120.1 103.14,113.2 103.26,96.5 103.38,108.8 103.50,114.5 103.62,104.7 103.74,103.3 103.86,116.0 103.98,108.6 104.10,101.0 104.22,108.5 104.34,119.9 104.46,110.2 104.58,120.6 104.70,125.0 104.82,114.1 104.94,105.7 105.06,104.5 105.18,113.9 105.30,120.7 105.42,116.2 105.54,118.3 105.66,111.1 105.78,116.7 105.90,111.1 106.02,112.2 106.14,105.2 106.26,103.2 106.38,111.3 106.50,106.8 106.62,107.9 106.74,120.0 106.86,114.3 106.98,136.6 107.10,122.1 107.22,110.7 107.34,121.1 107.46,118.1 107.58,110.5 107.70,123.7 107.82,110.0 107.94,93.3 108.06,121.7 108.18,111.4 108.30,126.9 108.42,111.3 108.54,107.4 108.66,127.6 108.78,108.4 108.90,117.8 109.02,127.1 109.14,117.3 109.26,116.0 109.38,117.4 109.50,122.9 109.62,96.9 109.74,121.3 109.86,121.2 109.98,134.1 110.10,114.6 110.22,110.4 110.34,122.6 110.46,114.4 110.58,119.5 110.70,118.4 110.82,126.1 110.94,112.7 111.06,117.0 111.18,98.9 111.30,111.2 111.42,129.1 111.54,112.9 111.66,112.8 111.78,109.1 111.90,122.4 112.02,119.5 112.14,109.6 112.26,123.3 112.38,120.3 112.50,124.0 112.62,113.9 112.74,131.4 112.86,121.7 112.98,117.9 113.10,115.0 113.22,117.1 113.34,125.3 113.46,117.1 113.58,127.1 113.70,123.5 113.82,129.2 113.94,125.3 114.06,119.0 114.18,105.5 114.30,121.8 114.42,125.5 114.54,120.9 114.66,123.9 114.78,116.4 114.90,117.1 115.02,113.1 115.14,130.1 115.26,121.4 115.38,99.7 115.50,110.6 115.62,119.4 115.74,131.2 115.86,124.1 115.98,115.5 116.10,131.4 116.22,131.5 116.34,128.3 116.46,127.0 116.58,129.8 116.70,125.4 116.82,127.2 116.94,115.8 117.06,132.7 117.18,123.4 117.30,136.7 117.42,106.9 117.54,127.2 117.66,129.3 117.78,119.7 117.90,125.6 118.02,127.9 118.14,126.8 118.26,118.6 118.38,121.7 118.50,130.3 118.62,132.3 118.74,123.7 118.86,123.7 118.98,124.7 119.10,130.9 119.22,115.6 119.34,113.7 119.46,124.5 119.58,115.5 119.70,119.4 119.82,124.5 119.94,127.5 120.06,116.1 120.18,129.9 120.30,111.0 120.42,128.0 120.54,112.4 120.66,114.6 120.78,128.7 120.90,121.0 121.02,118.2 121.14,120.7 121.26,127.4 121.38,123.6 121.50,123.8 121.62,131.8 121.74,118.7 121.86,120.5 121.98,120.2 122.10,132.6 122.22,131.3 122.34,133.5 122.46,123.8 122.58,122.8 122.70,130.3 122.82,121.1 122.94,130.1 123.06,129.3 123.18,118.9 123.30,123.4 123.42,123.1 123.54,136.7 123.66,143.0 123.78,123.3 123.90,124.1 124.02,107.2 124.14,125.6 124.26,106.0 124.38,104.8 124.50,129.8 124.62,112.5 124.74,122.4 124.86,125.0 124.98,114.8 125.10,130.3 125.22,131.8 125.34,113.8 125.46,113.7 125.58,128.4 125.70,123.8 125.82,115.1 125.94,121.8 126.06,123.2 126.18,122.9 126.30,130.1 126.42,126.8 126.54,137.0 126.66,134.1 126.78,129.0 126.90,131.9 127.02,133.7 127.14,129.2 127.26,115.0 127.38,130.3 127.50,124.5 127.62,135.9 127.74,124.7 127.86,127.9 127.98,126.4 128.10,136.2 128.22,125.0 128.34,121.6 128.46,125.7 128.58,120.1 128.70,124.4 128.82,123.0 128.94,124.9 129.06,137.0 129.18,119.6 129.30,122.8 129.42,120.9 129.54,127.2 129.66,113.3 129.78,116.8 129.90,121.5 130.02,125.7 130.14,121.2 130.26,117.6 130.38,114.8 130.50,124.9 130.62,131.7 130.74,123.2 130.86,122.1 130.98,123.8 131.10,113.4 131.22,117.9 131.34,118.1 131.46,122.2 131.58,119.6 131.70,110.6 131.82,128.0 131.94,132.1 132.06,117.3 132.18,122.1 132.30,121.0 132.42,124.7 132.54,98.0 132.66,130.7 132.78,114.9 132.90,127.8 133.02,118.8 133.14,115.1 133.26,116.8 133.38,124.5 133.50,111.1 133.62,114.6 133.74,113.7 133.86,104.2 133.98,126.9 134.10,121.3 134.22,116.7 134.34,125.6 134.46,109.5 134.58,116.1 134.70,129.6 134.82,123.9 134.94,99.6 135.06,91.2 135.18,108.4 135.30,124.2 135.42,112.6 135.54,114.4 135.66,120.6 135.78,109.2 135.90,117.5 136.02,121.8 136.14,119.2 136.26,118.6 136.38,111.0 136.50,119.4 136.62,112.2 136.74,125.2 136.86,134.7 136.98,109.6 137.10,98.7 137.22,111.9 137.34,117.8 137.46,122.9 137.58,123.0 137.70,108.9 137.82,108.7 137.94,124.2 138.06,106.3 138.18,122.7 138.30,112.7 138.42,120.1 138.54,119.6 138.66,120.1 138.78,120.3 138.90,106.6 139.02,116.3 139.14,114.2 139.26,116.6 139.38,123.7 139.50,112.5 139.62,109.3 139.74,109.3 139.86,112.5 139.98,120.6 140.10,109.0 140.22,123.9 140.34,117.5 140.46,113.8 140.58,105.6 140.70,117.5 140.82,121.0 140.94,102.7 141.06,125.0 141.18,128.5 141.30,118.8 141.42,120.1 141.54,134.6 141.66,125.9 141.78,110.1 141.90,116.8 142.02,115.9 142.14,116.0 142.26,99.7 142.38,123.0 142.50,112.8 142.62,118.8 142.74,116.7 142.86,124.3 142.98,115.8 143.10,112.2 143.22,122.2 143.34,128.7 143.46,116.1 143.58,128.7 143.70,120.6 143.82,114.9 143.94,130.2 144.06,113.0 144.18,126.7 144.30,115.6 144.42,122.7 144.54,110.4 144.66,113.5 144.78,127.6 144.90,121.3 145.02,120.3 145.14,116.9 145.26,123.5 145.38,110.2 145.50,112.3 145.62,119.5 145.74,114.7 145.86,115.8 145.98,120.5 146.10,120.1 146.22,119.6 146.34,133.4 146.46,128.8 146.58,130.4 146.70,121.5 146.82,118.2 146.94,111.5 147.06,119.6 147.18,107.2 147.30,118.1 147.42,127.9 147.54,134.1 147.66,129.5 147.78,116.7 147.90,126.4 148.02,117.4 148.14,129.0 148.26,122.5 148.38,129.4 148.50,141.6 148.62,130.1 148.74,140.1 148.86,125.1 148.98,121.7 149.10,133.4 149.22,136.3 149.34,120.5 149.46,125.0 149.58,114.6 149.70,123.3 149.82,148.5 149.94,124.3 150.06,121.1 150.18,115.5 150.30,127.8 150.42,130.9 150.54,129.6 150.66,127.4 150.78,117.1 150.90,137.9 151.02,125.6 151.14,124.9 151.26,130.8 151.38,110.9 151.50,125.1 151.62,124.5 151.74,127.9 151.86,134.5 151.98,128.4 152.10,112.6 152.22,122.6 152.34,126.3 152.46,125.8 152.58,115.9 152.70,113.2 152.82,128.2 152.94,126.7 153.06,124.1 153.18,112.4 153.30,136.1 153.42,104.1 153.54,121.3 153.66,138.0 153.78,122.5 153.90,125.1 154.02,115.4 154.14,132.6 154.26,114.4 154.38,124.8 154.50,123.9 154.62,115.7 154.74,128.8 154.86,113.0 154.98,117.9 155.10,122.3 155.22,119.6 155.34,125.5 155.46,128.5 155.58,120.1 155.70,118.3 155.82,118.3 155.94,119.3 156.06,127.2 156.18,120.1 156.30,124.2 156.42,120.7 156.54,115.5 156.66,127.0 156.78,114.0 156.90,121.0 157.02,131.0 157.14,113.3 157.26,120.3 157.38,109.7 157.50,117.0 157.62,110.1 157.74,117.8 157.86,116.4 157.98,120.9 158.10,130.6 158.22,121.6 158.34,124.0 158.46,119.0 158.58,117.5 158.70,113.3 158.82,106.6 158.94,119.1 159.06,129.4 159.18,121.4 159.30,114.5 159.42,128.9 159.54,114.8 159.66,113.4 159.78,109.2 159.90,110.7 160.02,115.3 160.14,130.1 160.26,115.2 160.38,109.6 160.50,93.7 160.62,114.6 160.74,104.6 160.86,116.5 160.98,120.1 161.10,117.5 161.22,119.1 161.34,106.6 161.46,103.7 161.58,123.0 161.70,121.6 161.82,104.3 161.94,115.4 162.06,114.1 162.18,117.2 162.30,114.9 162.42,110.1 162.54,114.4 162.66,114.0 162.78,112.5 162.90,100.8 163.02,93.3 163.14,107.3 163.26,101.7 163.38,113.5 163.50,116.3 163.62,113.2 163.74,109.1 163.86,111.7 163.98,118.4 164.10,106.3 164.22,116.6 164.34,115.1 164.46,112.2 164.58,119.5 164.70,105.8 164.82,116.0 164.94,104.3 165.06,105.2 165.18,103.3 165.30,112.4 165.42,103.8 165.54,109.8 165.66,88.8 165.78,115.7 165.90,120.2 166.02,110.3 166.14,118.8 166.26,112.1 166.38,121.6 166.50,109.1 166.62,99.0 166.74,117.1 166.86,107.4 166.98,101.9 167.10,104.0 167.22,98.2 167.34,106.7 167.46,101.3 167.58,116.1 167.70,111.2 167.82,97.6 167.94,98.3 168.06,103.8 168.18,96.2 168.30,106.8 168.42,107.4 168.54,103.3 168.66,104.8 168.78,111.1 168.90,116.6 169.02,117.2 169.14,108.9 169.26,113.8 169.38,104.8 169.50,111.6 169.62,103.9 169.74,113.8 169.86,102.6 169.98,104.4 170.10,110.1 170.22,113.5 170.34,102.2 170.46,107.6 170.58,111.7 170.70,112.4 170.82,106.4 170.94,112.0 171.06,110.0 171.18,119.9 171.30,115.2 171.42,104.5 171.54,99.6 171.66,113.1 171.78,119.5 171.90,113.9 172.02,118.2 172.14,110.6 172.26,105.9 172.38,118.5 172.50,115.1 172.62,118.8 172.74,107.2 172.86,116.6 172.98,112.3 173.10,121.0 173.22,113.3 173.34,113.5 173.46,114.0 173.58,125.0 173.70,118.3 173.82,114.1 173.94,112.9 174.06,113.2 174.18,136.8 174.30,109.4 174.42,115.3 174.54,124.3 174.66,127.8 174.78,120.5 174.90,126.2 175.02,126.4 175.14,128.1 175.26,123.0 175.38,132.7 175.50,124.7 175.62,132.8 175.74,118.0 175.86,130.1 175.98,117.8 176.10,116.7 176.22,128.6 176.34,121.2 176.46,128.8 176.58,120.3 176.70,136.2 176.82,127.2 176.94,120.8 177.06,128.7 177.18,133.2 177.30,123.8 177.42,131.6 177.54,141.0 177.66,134.3 177.78,129.4 177.90,126.3 178.02,133.5 178.14,121.3 178.26,112.4 178.38,126.9 178.50,124.7 178.62,141.9 178.74,132.6 178.86,126.1 178.98,125.3 179.10,135.6 179.22,127.8 179.34,129.6 179.46,132.9 179.58,134.3 179.70,134.6 179.82,135.0 179.94,142.6 180.06,145.3 180.18,125.0 180.30,151.3 180.42,136.5 180.54,143.7 180.66,131.7 180.78,138.6 180.90,138.2 181.02,137.9 181.14,142.8 181.26,141.7 181.38,131.7 181.50,137.6 181.62,143.1 181.74,143.2 181.86,137.0 181.98,137.7 182.10,138.7 182.22,133.0 182.34,132.1 182.46,150.4 182.58,138.2 182.70,141.6 182.82,136.5 182.94,149.7 183.06,152.8 183.18,140.6 183.30,145.5 183.42,137.8 183.54,153.9 183.66,148.9 183.78,138.0 183.90,151.5 184.02,146.1 184.14,146.7 184.26,146.6 184.38,140.4 184.50,141.5 184.62,149.1 184.74,145.1 184.86,139.7 184.98,158.7 185.10,144.8 185.22,142.9 185.34,142.3 185.46,151.3 185.58,153.3 185.70,149.0 185.82,153.2 185.94,138.5 186.06,145.9 186.18,145.5 186.30,148.8 186.42,152.1 186.54,136.4 186.66,169.2 186.78,144.3 186.90,152.2 187.02,155.5 187.14,155.9 187.26,152.3 187.38,132.7 187.50,144.4 187.62,156.3 187.74,146.0 187.86,145.4 187.98,137.4 188.10,160.2 188.22,155.9 188.34,147.3 188.46,152.3 188.58,152.7 188.70,146.6 188.82,152.0 188.94,155.5 189.06,157.6 189.18,162.2 189.30,154.8 189.42,151.9 189.54,157.5 189.66,151.3 189.78,147.7 189.90,162.7 190.02,153.5 190.14,156.8 190.26,160.3 190.38,149.8 190.50,160.7 190.62,159.7 190.74,156.6 190.86,159.8 190.98,153.1 191.10,144.5 191.22,156.4 191.34,152.8 191.46,163.8 191.58,160.4 191.70,155.8 191.82,159.5 191.94,167.5 192.06,166.5 192.18,162.1 192.30,162.7 192.42,158.7 192.54,159.8 192.66,164.3 192.78,160.3 192.90,163.0 193.02,154.8 193.14,151.8 193.26,151.8 193.38,159.5 193.50,170.1 193.62,169.5 193.74,156.9 193.86,153.9 193.98,167.8 194.10,166.1 194.22,155.7 194.34,170.0 194.46,165.1 194.58,172.0 194.70,166.5 194.82,169.9 194.94,166.8 195.06,159.7 195.18,164.1 195.30,161.7 195.42,170.6 195.54,160.3 195.66,157.4 195.78,170.4 195.90,173.3 196.02,175.3 196.14,173.4 196.26,158.6 196.38,163.5 196.50,164.6 196.62,167.9 196.74,155.8 196.86,168.4 196.98,170.2 197.10,163.4 197.22,169.7 197.34,176.2 197.46,169.8 197.58,175.8 197.70,175.8 197.82,172.5 197.94,172.6 198.06,168.4 198.18,178.0 198.30,168.3 198.42,167.2 198.54,175.5 198.66,167.5 198.78,174.3 198.90,178.2 199.02,172.8 199.14,173.1 199.26,178.0 199.38,177.3 199.50,164.3 199.62,165.8 199.74,181.3 199.86,176.1 199.98,162.0 200.10,166.4 200.22,174.5 200.34,168.7 200.46,177.3 200.58,175.1 200.70,177.7 200.82,168.1 200.94,178.7 201.06,186.8 201.18,170.6 201.30,183.2 201.42,181.4 201.54,179.5 201.66,175.4 201.78,168.9 201.90,170.7 202.02,180.8 202.14,182.2 202.26,183.8 202.38,182.4 202.50,182.2 202.62,174.1 202.74,169.5 202.86,178.3 202.98,180.2 203.10,177.8 203.22,167.9 203.34,156.2 203.46,168.4 203.58,178.6 203.70,171.3 203.82,176.9 203.94,180.1 204.06,178.8 204.18,186.2 204.30,170.2 204.42,163.0 204.54,182.4 204.66,184.9 204.78,184.7 204.90,177.0 205.02,178.3 205.14,175.2 205.26,165.9 205.38,170.1 205.50,176.4 205.62,169.3 205.74,184.5 205.86,162.4 205.98,169.0 206.10,178.4 206.22,167.1 206.34,163.5 206.46,161.6 206.58,165.2 206.70,178.9 206.82,171.6 206.94,171.9 207.06,165.0 207.18,173.2 207.30,168.1 207.42,161.3 207.54,163.8 207.66,167.6 207.78,173.3 207.90,165.2 208.02,168.2 208.14,177.2 208.26,158.7 208.38,155.2 208.50,168.7 208.62,164.5 208.74,160.4 208.86,162.1 208.98,157.5 209.10,162.3 209.22,156.1 209.34,162.9 209.46,149.3 209.58,150.9 209.70,156.4 209.82,151.8 209.94,158.9 210.06,153.3 210.18,149.3 210.30,153.6 210.42,148.0 210.54,140.3 210.66,142.5 210.78,144.1 210.90,145.6 211.02,148.8 211.14,153.9 211.26,150.8 211.38,158.8 211.50,154.8 211.62,144.1 211.74,156.3 211.86,152.5 211.98,140.6 212.10,145.4 212.22,150.3 212.34,143.8 212.46,148.7 212.58,143.8 212.70,145.4 212.82,137.6 212.94,142.0 213.06,136.1 213.18,143.0 213.30,120.4 213.42,139.5 213.54,145.6 213.66,140.2 213.78,135.2 213.90,138.8 214.02,128.1 214.14,128.2 214.26,131.7 214.38,133.3 214.50,141.4 214.62,127.8 214.74,141.7 214.86,122.8 214.98,128.6 215.10,134.1 215.22,142.9 215.34,129.8 215.46,118.6 215.58,137.4 215.70,134.1 215.82,126.4 215.94,126.7 216.06,129.2 216.18,135.1 216.30,139.2 216.42,123.5 216.54,151.2 216.66,134.1 216.78,131.6 216.90,139.3 217.02,135.2 217.14,151.9 217.26,143.1 217.38,132.8 217.50,133.0 217.62,132.6 217.74,134.1 217.86,141.7 217.98,132.6 218.10,149.2 218.22,137.4 218.34,137.3 218.46,145.4 218.58,125.0 218.70,132.8 218.82,144.0 218.94,140.2 219.06,140.4 219.18,143.6 219.30,137.0 219.42,140.4 219.54,132.5 219.66,129.4 219.78,151.3 219.90,136.6 220.02,138.5 220.14,153.7 220.26,152.1 220.38,142.1 220.50,142.9 220.62,146.6 220.74,141.6 220.86,152.4 220.98,150.4 221.10,151.1 221.22,156.0 221.34,156.5 221.46,164.6 221.58,163.2 221.70,142.9 221.82,160.6 221.94,148.3 222.06,147.1 222.18,161.6 222.30,138.1 222.42,156.6 222.54,166.2 222.66,155.9 222.78,155.2 222.90,163.7 223.02,170.1 223.14,180.6 223.26,154.2 223.38,160.5 223.50,164.3 223.62,177.7 223.74,172.1 223.86,172.5 223.98,175.3 224.10,167.0 224.22,172.4 224.34,173.1 224.46,165.3 224.58,171.6 224.70,175.6 224.82,167.0 224.94,178.4 225.06,178.8 225.18,181.0 225.30,171.8 225.42,177.3 225.54,185.3 225.66,182.4 225.78,174.7 225.90,180.8 226.02,187.7 226.14,180.1 226.26,182.8 226.38,194.4 226.50,181.1 226.62,181.0 226.74,176.6 226.86,178.6 226.98,190.0 227.10,181.8 227.22,176.7 227.34,178.3 227.46,183.4 227.58,187.5 227.70,180.0 227.82,187.7 227.94,181.9 228.06,186.4 228.18,187.5 228.30,188.2 228.42,183.2 228.54,184.8 228.66,188.4 228.78,179.6 228.90,187.2 229.02,189.2 229.14,192.1 229.26,186.9 229.38,186.5 229.50,188.3 229.62,184.3 229.74,187.1 229.86,190.4 229.98,190.0 230.10,183.8 230.22,187.6 230.34,179.1 230.46,193.6 230.58,187.3 230.70,191.3 230.82,185.1 230.94,190.3 231.06,193.1 231.18,195.9 231.30,184.9 231.42,195.7 231.54,191.2 231.66,188.5 231.78,194.7 231.90,191.3 232.02,191.6 232.14,189.7 232.26,194.2 232.38,193.5 232.50,192.6 232.62,189.0 232.74,191.2 232.86,195.7 232.98,199.9 233.10,193.9 233.22,200.8 233.34,194.2 233.46,189.2 233.58,197.5 233.70,190.0 233.82,196.6 233.94,199.9 234.06,193.5 234.18,194.7 234.30,206.9 234.42,196.5 234.54,196.7 234.66,199.3 234.78,195.2 234.90,195.4 235.02,197.7 235.14,184.8 235.26,202.9 235.38,191.3 235.50,191.3 235.62,199.1 235.74,196.8 235.86,190.9 235.98,197.9 236.10,191.6 236.22,193.8 236.34,190.2 236.46,193.5 236.58,199.4 236.70,198.2 236.82,199.2 236.94,202.2 237.06,197.8 237.18,195.0 237.30,196.9 237.42,206.1 237.54,198.6 237.66,200.1 237.78,198.2 237.90,200.0 238.02,201.0 238.14,199.0 238.26,198.4 238.38,195.6 238.50,195.4 238.62,201.5 238.74,203.2 238.86,204.1 238.98,200.1 239.10,196.1 239.22,203.1 239.34,203.2 239.46,193.3 239.58,204.3 239.70,203.4 239.82,208.6 239.94,195.5 240.06,194.9 240.18,204.7 240.30,192.6 240.42,197.6 240.54,196.0 240.66,196.4 240.78,192.3 240.90,200.2 241.02,205.9 241.14,203.5 241.26,203.5 241.38,199.8 241.50,208.4 241.62,204.1 241.74,206.6 241.86,194.4 241.98,203.4 242.10,196.4 242.22,203.5 242.34,202.8 242.46,196.6 242.58,202.8 242.70,207.5 242.82,204.5 242.94,204.9 243.06,198.1 243.18,199.1 243.30,197.1 243.42,203.0 243.54,208.0 243.66,204.5 243.78,202.5 243.90,197.3 244.02,204.7 244.14,201.5 244.26,193.7 244.38,194.6 244.50,201.2 244.62,198.6 244.74,210.7 244.86,203.1 244.98,198.1 245.10,200.8 245.22,210.6 245.34,198.7 245.46,206.8 245.58,205.3 245.70,210.2 245.82,205.8 245.94,201.5 246.06,205.9 246.18,203.8 246.30,208.1 246.42,203.3 246.54,212.9 246.66,203.2 246.78,205.8 246.90,200.7 247.02,204.4 247.14,204.0 247.26,204.8 247.38,208.2 247.50,201.5 247.62,200.1 247.74,209.4 247.86,202.9 247.98,201.1 248.10,209.7 248.22,208.0 248.34,192.0 248.46,202.7 248.58,217.6 248.70,208.5 248.82,202.2 248.94,212.0 249.06,201.0 249.18,203.7 249.30,205.4 249.42,204.8 249.54,208.7 249.66,209.8 249.78,204.8 249.90,211.6 250.02,201.9 250.14,204.1 250.26,213.2 250.38,205.6 250.50,210.2 250.62,203.2 250.74,204.0 250.86,204.7 250.98,206.0 251.10,203.7 251.22,205.3 251.34,208.4 251.46,211.0 251.58,205.8 251.70,208.4 251.82,209.6 251.94,200.3 252.06,193.9 252.18,213.0 252.30,211.6 252.42,205.7 252.54,207.1 252.66,201.0 252.78,198.9 252.90,206.9 253.02,198.5 253.14,209.8 253.26,202.3 253.38,206.9 253.50,214.6 253.62,214.4 253.74,204.2 253.86,210.6 253.98,188.4 254.10,202.8 254.22,207.3 254.34,212.1 254.46,202.9 254.58,208.1 254.70,206.1 254.82,199.7 254.94,205.0 255.06,212.7 255.18,205.2 255.30,208.0 255.42,209.6 255.54,202.2 255.66,211.5 255.78,212.8 255.90,213.2 256.02,211.9 256.14,203.5 256.26,188.9 256.38,202.1 256.50,201.5 256.62,202.0 256.74,210.5 256.86,212.7 256.98,202.8 257.10,209.6 257.22,199.9 257.34,204.3 257.46,201.2 257.58,198.2 257.70,206.1 257.82,206.2 257.94,189.6 258.06,203.4 258.18,201.2 258.30,194.6 258.42,203.1 258.54,207.1 258.66,200.2 258.78,207.0 258.90,208.4 259.02,211.8 259.14,210.9 259.26,206.9 259.38,202.8 259.50,197.4 259.62,206.0 259.74,212.7 259.86,213.9 259.98,194.0 260.10,202.5 260.22,204.4 260.34,201.1 260.46,206.9 260.58,206.2 260.70,203.6 260.82,205.9 260.94,198.6 261.06,201.5 261.18,201.9 261.30,210.3 261.42,198.4 261.54,205.1 261.66,209.8 261.78,205.9 261.90,210.0 262.02,203.0 262.14,208.2 262.26,210.4 262.38,216.7 262.50,209.6 262.62,212.9 262.74,206.2 262.86,206.6 262.98,213.6 263.10,209.0 263.22,212.9 263.34,221.9 263.46,216.3 263.58,217.5 263.70,202.3 263.82,215.0 263.94,208.3 264.06,208.5 264.18,205.7 264.30,209.7 264.42,201.1 264.54,202.9 264.66,202.7 264.78,207.7 264.90,210.7 265.02,209.8 265.14,208.1 265.26,203.6 265.38,198.1 265.50,208.3 265.62,207.1 265.74,208.1 265.86,213.2 265.98,205.6 266.10,205.5 266.22,195.5 266.34,209.1 266.46,206.2 266.58,203.0 266.70,208.3 266.82,201.5 266.94,203.9 267.06,215.8 267.18,210.0 267.30,210.9 267.42,210.0 267.54,209.5 267.66,207.4 267.78,217.3 267.90,206.2 268.02,210.0 268.14,205.5 268.26,193.3 268.38,195.0 268.50,197.5 268.62,213.9 268.74,213.6 268.86,204.5 268.98,206.4 269.10,209.4 269.22,201.9 269.34,214.9 269.46,201.6 269.58,203.2 269.70,193.5 269.82,213.7 269.94,206.9 270.06,214.2 270.18,201.8 270.30,208.2 270.42,206.9 270.54,207.5 270.66,216.4 270.78,217.3 270.90,213.1 271.02,204.7 271.14,210.8 271.26,213.0 271.38,209.3 271.50,209.3 271.62,208.9 271.74,195.6 271.86,207.8 271.98,214.2 272.10,202.0 272.22,207.1 272.34,210.6 272.46,200.2 272.58,206.0 272.70,198.7 272.82,203.8 272.94,200.0 273.06,202.5 273.18,204.4 273.30,205.4 273.42,205.7 273.54,195.3 273.66,214.2 273.78,205.4 273.90,201.5 274.02,203.7 274.14,208.2 274.26,202.0 274.38,204.8 274.50,204.5 274.62,209.3 274.74,203.2 274.86,208.9 274.98,208.4 275.10,206.1 275.22,212.6 275.34,206.9 275.46,201.2 275.58,208.2 275.70,207.4 275.82,206.6 275.94,207.9 276.06,217.9 276.18,207.9 276.30,209.0 276.42,205.7 276.54,213.0 276.66,206.6 276.78,203.0 276.90,201.1 277.02,209.3 277.14,210.4 277.26,199.4 277.38,203.4 277.50,209.9 277.62,211.7 277.74,200.6 277.86,205.0 277.98,210.8 278.10,204.4 278.22,204.8 278.34,204.4 278.46,200.7 278.58,207.1 278.70,208.4 278.82,200.3 278.94,207.4 279.06,212.2 279.18,207.9 279.30,211.4 279.42,204.4 279.54,213.4 279.66,203.3 279.78,215.9 279.90,204.9 280.02,203.6 280.14,202.7 280.26,205.0 280.38,204.6 280.50,203.6 280.62,205.3 280.74,210.0 280.86,211.0 280.98,205.2 281.10,212.6 281.22,202.0 281.34,201.9 281.46,201.4 281.58,209.5 281.70,199.3 281.82,200.0 281.94,212.6 282.06,214.7 282.18,212.9 282.30,199.5 282.42,206.5 282.54,210.4 282.66,206.9 282.78,198.8 282.90,204.8 283.02,198.3 283.14,200.5 283.26,216.5 283.38,209.5 283.50,199.3 283.62,199.1 283.74,208.4 283.86,203.3 283.98,208.9 284.10,203.1 284.22,205.2 284.34,207.2 284.46,201.2 284.58,197.0 284.70,200.4 284.82,202.7 284.94,205.0 285.06,205.7 285.18,205.6 285.30,208.3 285.42,201.6 285.54,212.4 285.66,215.3 285.78,207.5 285.90,206.6 286.02,211.6 286.14,208.8 286.26,206.6 286.38,204.9 286.50,202.1 286.62,200.1 286.74,208.7 286.86,211.2 286.98,200.5 287.10,205.2 287.22,206.5 287.34,203.4 287.46,201.8 287.58,203.6 287.70,196.1 287.82,205.1 287.94,203.9 288.06,215.3 288.18,209.7 288.30,203.6 288.42,205.2 288.54,213.3 288.66,212.8 288.78,206.0 288.90,204.5 289.02,198.3 289.14,203.5 289.26,204.3 289.38,201.6 289.50,213.2 289.62,196.1 289.74,204.3 289.86,206.9 289.98,207.0 290.10,212.8 290.22,198.2 290.34,201.2 290.46,205.1 290.58,205.3 290.70,202.7 290.82,200.9 290.94,209.6 291.06,199.4 291.18,201.6 291.30,211.2 291.42,212.5 291.54,208.3 291.66,199.9 291.78,199.9 291.90,199.6 292.02,198.4 292.14,201.8 292.26,209.9 292.38,204.8 292.50,200.0 292.62,199.8 292.74,197.8 292.86,209.4 292.98,193.5 293.10,204.7 293.22,196.2 293.34,198.0 293.46,195.8 293.58,207.8 293.70,202.6 293.82,216.5 293.94,197.8 294.06,197.4 294.18,205.7 294.30,205.5 294.42,201.2 294.54,192.5 294.66,209.7 294.78,205.3 294.90,204.4 295.02,199.3 295.14,205.4 295.26,199.4 295.38,202.3 295.50,201.1 295.62,208.3 295.74,199.5 295.86,200.1 295.98,207.3 296.10,202.9 296.22,201.5 296.34,200.4 296.46,206.3 296.58,198.2 296.70,203.8 296.82,211.6 296.94,203.3 297.06,197.2 297.18,195.0 297.30,201.8 297.42,194.7 297.54,192.8 297.66,197.0 297.78,195.2 297.90,205.2 298.02,193.2 298.14,208.8 298.26,196.7 298.38,201.1 298.50,203.9 298.62,201.5 298.74,204.0 298.86,195.1 298.98,188.3 299.10,199.0 299.22,191.3 299.34,196.9 299.46,204.8 299.58,198.8 299.70,196.7 299.82,193.8 299.94,198.1 300.06,198.6 300.18,191.2 300.30,200.9 300.42,193.7 300.54,200.4 300.66,196.8 300.78,204.3 300.90,215.0 301.02,198.9 301.14,198.2 301.26,201.0 301.38,205.9 301.50,204.2 301.62,199.4 301.74,200.1 301.86,206.7 301.98,185.9 302.10,201.1 302.22,193.5 302.34,205.3 302.46,195.5 302.58,197.4 302.70,192.3 302.82,198.0 302.94,202.0" stroke="#0000ff"/>
</g>
<line x1="67" y1="58" x2="67" y2="250.5" stroke="#a0a0a0" stroke-width="1.4"/>
<line x1="67" y1="250" x2="303" y2="250" stroke="#a0a0a0" stroke-width="1.1"/>
<g stroke="#111" stroke-width="1.8"><line x1="66.9" y1="246.6" x2="66.9" y2="253.6"/><line x1="125.9" y1="246.6" x2="125.9" y2="253.6"/><line x1="184.9" y1="246.6" x2="184.9" y2="253.6"/><line x1="243.9" y1="246.6" x2="243.9" y2="253.6"/><line x1="302.9" y1="246.6" x2="302.9" y2="253.6"/></g>
<g stroke="#555" stroke-width="1.2"><line x1="96.4" y1="248.2" x2="96.4" y2="251.9"/><line x1="155.4" y1="248.2" x2="155.4" y2="251.9"/><line x1="214.4" y1="248.2" x2="214.4" y2="251.9"/><line x1="273.4" y1="248.2" x2="273.4" y2="251.9"/></g>
<line x1="219.9" y1="75.9" x2="219.9" y2="100" stroke="#000" stroke-width="2.8"/>
<polygon points="213.4,98.6 226,98.6 219.8,115.8" fill="#000"/>

<polygon points="398.0,257.4 398.0,157.6 521.7,45.6 521.7,113.9" fill="#e5f5f5"/>
<polygon points="521.7,113.9 521.7,45.6 659.1,45.6 659.1,113.9" fill="#fefedc"/>
<polygon points="398.0,257.4 598.8,257.4 600.3,253.8 401.1,253.8" fill="#e4e4e4"/>
<g stroke="#d2e6e6" stroke-width="0.8"><line x1="404.3" y1="250.1" x2="404.3" y2="151.9"/><line x1="410.5" y1="242.9" x2="410.5" y2="146.3"/><line x1="416.6" y1="235.8" x2="416.6" y2="140.8"/><line x1="422.7" y1="228.8" x2="422.7" y2="135.3"/><line x1="428.6" y1="221.9" x2="428.6" y2="129.9"/><line x1="434.5" y1="215.1" x2="434.5" y2="124.6"/><line x1="440.3" y1="208.4" x2="440.3" y2="119.3"/><line x1="446.0" y1="201.7" x2="446.0" y2="114.2"/><line x1="451.6" y1="195.2" x2="451.6" y2="109.1"/><line x1="457.2" y1="188.8" x2="457.2" y2="104.1"/><line x1="462.6" y1="182.4" x2="462.6" y2="99.1"/><line x1="468.0" y1="176.2" x2="468.0" y2="94.2"/><line x1="473.3" y1="170.1" x2="473.3" y2="89.4"/><line x1="478.5" y1="164.0" x2="478.5" y2="84.7"/><line x1="483.6" y1="158.0" x2="483.6" y2="80.1"/><line x1="488.7" y1="152.2" x2="488.7" y2="75.5"/><line x1="493.7" y1="146.4" x2="493.7" y2="71.0"/><line x1="498.5" y1="140.8" x2="498.5" y2="66.6"/><line x1="503.3" y1="135.2" x2="503.3" y2="62.2"/><line x1="508.1" y1="129.7" x2="508.1" y2="58.0"/><line x1="512.7" y1="124.3" x2="512.7" y2="53.8"/><line x1="517.2" y1="119.1" x2="517.2" y2="49.7"/><line x1="521.7" y1="113.9" x2="521.7" y2="45.6"/></g>
<g stroke="#9ab0b0" stroke-width="0.6"><line x1="398.0" y1="246.3" x2="521.7" y2="106.3"/><line x1="398.0" y1="224.4" x2="521.7" y2="91.3"/><line x1="398.0" y1="203.0" x2="521.7" y2="76.7"/><line x1="398.0" y1="181.3" x2="521.7" y2="61.8"/></g>
<g stroke="#e6e6c6" stroke-width="0.9"><line x1="536.0" y1="113.9" x2="536.0" y2="45.6"/><line x1="551.4" y1="113.9" x2="551.4" y2="45.6"/><line x1="566.9" y1="113.9" x2="566.9" y2="45.6"/><line x1="582.4" y1="113.9" x2="582.4" y2="45.6"/><line x1="597.9" y1="113.9" x2="597.9" y2="45.6"/><line x1="613.4" y1="113.9" x2="613.4" y2="45.6"/><line x1="628.9" y1="113.9" x2="628.9" y2="45.6"/><line x1="644.4" y1="113.9" x2="644.4" y2="45.6"/><line x1="521.7" y1="106.3" x2="659.1" y2="106.3"/><line x1="521.7" y1="91.3" x2="659.1" y2="91.3"/><line x1="521.7" y1="76.7" x2="659.1" y2="76.7"/><line x1="521.7" y1="61.8" x2="659.1" y2="61.8"/></g>
<polyline points="398.0,157.6 521.7,45.6 659.1,45.6 659.1,113.9" fill="none" stroke="#a0a8a8" stroke-width="0.9"/>
<line x1="521.7" y1="45.6" x2="521.7" y2="113.9" stroke="#c0c8c8" stroke-width="1"/>
<g fill="none" stroke-width="1.05" stroke-linejoin="miter">
<polygon points="520.5,78.9 522.3,78.1 524.0,78.7 525.7,73.1 527.4,72.8 529.1,73.8 530.8,74.5 532.5,70.4 534.2,76.5 536.0,78.5 537.7,77.0 539.4,82.2 541.1,80.8 542.8,76.9 544.5,81.7 546.2,85.1 547.9,78.7 549.7,74.4 551.4,75.3 553.1,74.3 554.8,79.2 556.5,82.9 558.2,80.0 559.9,77.5 561.6,77.8 563.4,77.4 565.1,75.0 566.8,73.7 568.5,76.8 570.2,75.3 571.9,73.8 573.6,70.9 575.3,67.3 577.1,64.7 578.8,65.7 580.5,63.5 582.2,57.9 583.9,52.6 585.6,51.4 587.3,49.4 589.1,47.1 590.8,54.3 592.5,54.2 594.2,59.8 595.9,65.3 597.6,65.6 599.3,65.0 601.0,75.0 602.8,77.2 604.5,77.5 606.2,80.1 607.9,86.2 609.6,82.3 611.3,84.0 613.0,81.2 614.7,86.6 616.5,90.9 618.2,93.8 619.9,92.0 621.6,88.6 623.3,91.2 625.0,95.9 626.7,101.8 628.4,103.4 630.2,95.1 631.9,90.3 633.6,95.2 635.3,96.9 637.0,100.9 638.7,102.7 640.4,105.7 642.1,104.9 643.9,110.6 645.6,108.5 647.3,104.6 649.0,105.6 650.7,106.1 652.4,104.2 654.1,109.2 655.8,107.5 657.6,105.3 658.2,102.5 658.2,115.6 520.5,115.6" fill="#fff" stroke="none"/><polyline points="520.5,78.9 522.3,78.1 524.0,78.7 525.7,73.1 527.4,72.8 529.1,73.8 530.8,74.5 532.5,70.4 534.2,76.5 536.0,78.5 537.7,77.0 539.4,82.2 541.1,80.8 542.8,76.9 544.5,81.7 546.2,85.1 547.9,78.7 549.7,74.4 551.4,75.3 553.1,74.3 554.8,79.2 556.5,82.9 558.2,80.0 559.9,77.5 561.6,77.8 563.4,77.4 565.1,75.0 566.8,73.7 568.5,76.8 570.2,75.3 571.9,73.8 573.6,70.9 575.3,67.3 577.1,64.7 578.8,65.7 580.5,63.5 582.2,57.9 583.9,52.6 585.6,51.4 587.3,49.4 589.1,47.1 590.8,54.3 592.5,54.2 594.2,59.8 595.9,65.3 597.6,65.6 599.3,65.0 601.0,75.0 602.8,77.2 604.5,77.5 606.2,80.1 607.9,86.2 609.6,82.3 611.3,84.0 613.0,81.2 614.7,86.6 616.5,90.9 618.2,93.8 619.9,92.0 621.6,88.6 623.3,91.2 625.0,95.9 626.7,101.8 628.4,103.4 630.2,95.1 631.9,90.3 633.6,95.2 635.3,96.9 637.0,100.9 638.7,102.7 640.4,105.7 642.1,104.9 643.9,110.6 645.6,108.5 647.3,104.6 649.0,105.6 650.7,106.1 652.4,104.2 654.1,109.2 655.8,107.5 657.6,105.3 658.2,102.5" stroke="#281ec8"/><polygon points="515.8,79.3 517.6,81.3 519.3,82.0 521.1,77.9 522.8,83.3 524.5,82.5 526.3,78.4 528.0,82.5 529.8,82.7 531.5,82.2 533.3,78.3 535.0,80.4 536.7,84.9 538.5,83.4 540.2,78.4 542.0,78.7 543.7,78.5 545.5,83.3 547.2,80.6 548.9,83.8 550.7,83.6 552.4,82.7 554.2,83.8 555.9,85.8 557.7,82.5 559.4,79.7 561.1,77.3 562.9,76.8 564.6,81.3 566.4,78.9 568.1,78.4 569.9,74.8 571.6,72.4 573.3,71.5 575.1,67.9 576.8,65.0 578.6,59.6 580.3,52.5 582.1,57.3 583.8,58.9 585.5,58.6 587.3,58.3 589.0,62.5 590.8,64.7 592.5,65.9 594.3,74.2 596.0,76.3 597.7,73.4 599.5,83.5 601.2,88.1 603.0,93.5 604.7,91.7 606.4,86.2 608.2,85.0 609.9,94.1 611.7,98.2 613.4,96.3 615.2,96.3 616.9,99.4 618.6,99.6 620.4,95.5 622.1,98.0 623.9,100.9 625.6,106.8 627.4,108.6 629.1,110.9 630.8,107.2 632.6,107.9 634.3,108.8 636.1,110.2 637.8,116.7 639.6,116.8 641.3,111.9 643.0,112.2 644.8,110.4 646.5,114.7 648.3,119.7 650.0,119.6 651.8,118.5 653.5,116.6 655.2,116.9 655.9,117.9 655.9,121.1 515.8,121.1" fill="#fff" stroke="none"/><polyline points="515.8,79.3 517.6,81.3 519.3,82.0 521.1,77.9 522.8,83.3 524.5,82.5 526.3,78.4 528.0,82.5 529.8,82.7 531.5,82.2 533.3,78.3 535.0,80.4 536.7,84.9 538.5,83.4 540.2,78.4 542.0,78.7 543.7,78.5 545.5,83.3 547.2,80.6 548.9,83.8 550.7,83.6 552.4,82.7 554.2,83.8 555.9,85.8 557.7,82.5 559.4,79.7 561.1,77.3 562.9,76.8 564.6,81.3 566.4,78.9 568.1,78.4 569.9,74.8 571.6,72.4 573.3,71.5 575.1,67.9 576.8,65.0 578.6,59.6 580.3,52.5 582.1,57.3 583.8,58.9 585.5,58.6 587.3,58.3 589.0,62.5 590.8,64.7 592.5,65.9 594.3,74.2 596.0,76.3 597.7,73.4 599.5,83.5 601.2,88.1 603.0,93.5 604.7,91.7 606.4,86.2 608.2,85.0 609.9,94.1 611.7,98.2 613.4,96.3 615.2,96.3 616.9,99.4 618.6,99.6 620.4,95.5 622.1,98.0 623.9,100.9 625.6,106.8 627.4,108.6 629.1,110.9 630.8,107.2 632.6,107.9 634.3,108.8 636.1,110.2 637.8,116.7 639.6,116.8 641.3,111.9 643.0,112.2 644.8,110.4 646.5,114.7 648.3,119.7 650.0,119.6 651.8,118.5 653.5,116.6 655.2,116.9 655.9,117.9" stroke="#2d37e1"/><polygon points="511.0,82.2 512.8,87.2 514.6,87.7 516.3,85.8 518.1,84.5 519.9,83.8 521.7,85.4 523.4,85.8 525.2,90.1 527.0,87.7 528.8,87.6 530.5,89.7 532.3,90.0 534.1,92.3 535.8,90.8 537.6,88.2 539.4,90.1 541.2,92.4 542.9,91.7 544.7,85.1 546.5,83.5 548.3,86.0 550.0,89.3 551.8,93.2 553.6,85.2 555.4,81.5 557.1,82.4 558.9,84.5 560.7,89.7 562.4,87.0 564.2,85.5 566.0,79.0 567.8,81.0 569.5,77.4 571.3,74.5 573.1,73.9 574.9,70.0 576.6,62.4 578.4,58.3 580.2,58.3 582.0,59.8 583.7,66.4 585.5,72.7 587.3,76.3 589.0,77.6 590.8,77.5 592.6,75.5 594.4,81.6 596.1,80.1 597.9,80.5 599.7,87.9 601.5,92.0 603.2,94.8 605.0,93.2 606.8,94.1 608.6,93.9 610.3,100.6 612.1,105.8 613.9,101.4 615.6,101.6 617.4,105.8 619.2,108.5 621.0,106.2 622.7,105.6 624.5,107.4 626.3,111.4 628.1,106.1 629.8,108.8 631.6,110.7 633.4,107.8 635.2,112.3 636.9,122.9 638.7,119.5 640.5,120.2 642.2,119.5 644.0,123.5 645.8,119.8 647.6,116.3 649.3,116.3 651.1,116.2 652.9,117.5 653.5,121.7 653.5,126.7 511.0,126.7" fill="#fff" stroke="none"/><polyline points="511.0,82.2 512.8,87.2 514.6,87.7 516.3,85.8 518.1,84.5 519.9,83.8 521.7,85.4 523.4,85.8 525.2,90.1 527.0,87.7 528.8,87.6 530.5,89.7 532.3,90.0 534.1,92.3 535.8,90.8 537.6,88.2 539.4,90.1 541.2,92.4 542.9,91.7 544.7,85.1 546.5,83.5 548.3,86.0 550.0,89.3 551.8,93.2 553.6,85.2 555.4,81.5 557.1,82.4 558.9,84.5 560.7,89.7 562.4,87.0 564.2,85.5 566.0,79.0 567.8,81.0 569.5,77.4 571.3,74.5 573.1,73.9 574.9,70.0 576.6,62.4 578.4,58.3 580.2,58.3 582.0,59.8 583.7,66.4 585.5,72.7 587.3,76.3 589.0,77.6 590.8,77.5 592.6,75.5 594.4,81.6 596.1,80.1 597.9,80.5 599.7,87.9 601.5,92.0 603.2,94.8 605.0,93.2 606.8,94.1 608.6,93.9 610.3,100.6 612.1,105.8 613.9,101.4 615.6,101.6 617.4,105.8 619.2,108.5 621.0,106.2 622.7,105.6 624.5,107.4 626.3,111.4 628.1,106.1 629.8,108.8 631.6,110.7 633.4,107.8 635.2,112.3 636.9,122.9 638.7,119.5 640.5,120.2 642.2,119.5 644.0,123.5 645.8,119.8 647.6,116.3 649.3,116.3 651.1,116.2 652.9,117.5 653.5,121.7" stroke="#3250f0"/><polygon points="506.1,89.7 507.9,92.1 509.7,96.9 511.5,92.2 513.3,91.9 515.1,92.7 516.9,89.8 518.7,88.2 520.5,92.0 522.4,96.6 524.2,94.2 526.0,90.0 527.8,90.0 529.6,95.3 531.4,96.8 533.2,91.7 535.0,85.5 536.8,84.4 538.6,90.3 540.4,95.2 542.2,87.9 544.0,86.6 545.8,91.1 547.6,94.6 549.4,91.0 551.2,86.7 553.0,86.9 554.8,89.1 556.6,91.0 558.4,94.1 560.3,93.0 562.1,86.5 563.9,78.1 565.7,77.0 567.5,75.8 569.3,71.4 571.1,66.3 572.9,65.9 574.7,64.7 576.5,69.7 578.3,68.5 580.1,70.2 581.9,68.3 583.7,68.7 585.5,79.6 587.3,88.0 589.1,97.5 590.9,90.6 592.7,89.4 594.5,93.7 596.3,101.6 598.1,106.9 600.0,102.7 601.8,99.5 603.6,99.8 605.4,101.3 607.2,101.5 609.0,106.2 610.8,113.7 612.6,107.9 614.4,104.4 616.2,113.0 618.0,116.2 619.8,109.4 621.6,109.4 623.4,113.9 625.2,114.4 627.0,113.6 628.8,118.3 630.6,113.2 632.4,116.4 634.2,119.1 636.0,120.0 637.8,120.2 639.7,115.4 641.5,120.6 643.3,128.4 645.1,127.7 646.9,125.8 648.7,124.6 650.5,131.2 651.1,129.0 651.1,132.4 506.1,132.4" fill="#fff" stroke="none"/><polyline points="506.1,89.7 507.9,92.1 509.7,96.9 511.5,92.2 513.3,91.9 515.1,92.7 516.9,89.8 518.7,88.2 520.5,92.0 522.4,96.6 524.2,94.2 526.0,90.0 527.8,90.0 529.6,95.3 531.4,96.8 533.2,91.7 535.0,85.5 536.8,84.4 538.6,90.3 540.4,95.2 542.2,87.9 544.0,86.6 545.8,91.1 547.6,94.6 549.4,91.0 551.2,86.7 553.0,86.9 554.8,89.1 556.6,91.0 558.4,94.1 560.3,93.0 562.1,86.5 563.9,78.1 565.7,77.0 567.5,75.8 569.3,71.4 571.1,66.3 572.9,65.9 574.7,64.7 576.5,69.7 578.3,68.5 580.1,70.2 581.9,68.3 583.7,68.7 585.5,79.6 587.3,88.0 589.1,97.5 590.9,90.6 592.7,89.4 594.5,93.7 596.3,101.6 598.1,106.9 600.0,102.7 601.8,99.5 603.6,99.8 605.4,101.3 607.2,101.5 609.0,106.2 610.8,113.7 612.6,107.9 614.4,104.4 616.2,113.0 618.0,116.2 619.8,109.4 621.6,109.4 623.4,113.9 625.2,114.4 627.0,113.6 628.8,118.3 630.6,113.2 632.4,116.4 634.2,119.1 636.0,120.0 637.8,120.2 639.7,115.4 641.5,120.6 643.3,128.4 645.1,127.7 646.9,125.8 648.7,124.6 650.5,131.2 651.1,129.0" stroke="#376ef0"/><polygon points="501.1,94.0 502.9,97.4 504.8,92.3 506.6,95.4 508.5,97.1 510.3,94.0 512.1,94.9 514.0,97.7 515.8,96.4 517.6,97.9 519.5,94.2 521.3,95.1 523.1,96.7 525.0,97.2 526.8,95.1 528.7,98.7 530.5,103.6 532.3,101.7 534.2,91.5 536.0,95.6 537.8,97.8 539.7,98.0 541.5,98.5 543.4,102.2 545.2,100.2 547.0,97.3 548.9,99.2 550.7,93.7 552.5,93.2 554.4,93.5 556.2,92.6 558.0,87.8 559.9,88.6 561.7,91.4 563.6,86.5 565.4,76.2 567.2,79.7 569.1,77.1 570.9,68.9 572.7,72.3 574.6,70.5 576.4,77.6 578.2,83.0 580.1,84.8 581.9,90.9 583.8,89.5 585.6,89.7 587.4,95.5 589.3,95.7 591.1,94.1 592.9,98.4 594.8,98.4 596.6,100.9 598.4,105.0 600.3,108.6 602.1,107.6 604.0,107.8 605.8,112.1 607.6,112.4 609.5,114.3 611.3,115.9 613.1,118.0 615.0,116.4 616.8,116.2 618.6,119.6 620.5,125.2 622.3,122.2 624.2,123.8 626.0,127.8 627.8,126.1 629.7,121.2 631.5,120.6 633.3,122.1 635.2,128.3 637.0,131.7 638.8,131.6 640.7,128.9 642.5,124.2 644.4,126.6 646.2,132.8 648.0,133.2 648.7,129.0 648.7,138.2 501.1,138.2" fill="#fff" stroke="none"/><polyline points="501.1,94.0 502.9,97.4 504.8,92.3 506.6,95.4 508.5,97.1 510.3,94.0 512.1,94.9 514.0,97.7 515.8,96.4 517.6,97.9 519.5,94.2 521.3,95.1 523.1,96.7 525.0,97.2 526.8,95.1 528.7,98.7 530.5,103.6 532.3,101.7 534.2,91.5 536.0,95.6 537.8,97.8 539.7,98.0 541.5,98.5 543.4,102.2 545.2,100.2 547.0,97.3 548.9,99.2 550.7,93.7 552.5,93.2 554.4,93.5 556.2,92.6 558.0,87.8 559.9,88.6 561.7,91.4 563.6,86.5 565.4,76.2 567.2,79.7 569.1,77.1 570.9,68.9 572.7,72.3 574.6,70.5 576.4,77.6 578.2,83.0 580.1,84.8 581.9,90.9 583.8,89.5 585.6,89.7 587.4,95.5 589.3,95.7 591.1,94.1 592.9,98.4 594.8,98.4 596.6,100.9 598.4,105.0 600.3,108.6 602.1,107.6 604.0,107.8 605.8,112.1 607.6,112.4 609.5,114.3 611.3,115.9 613.1,118.0 615.0,116.4 616.8,116.2 618.6,119.6 620.5,125.2 622.3,122.2 624.2,123.8 626.0,127.8 627.8,126.1 629.7,121.2 631.5,120.6 633.3,122.1 635.2,128.3 637.0,131.7 638.8,131.6 640.7,128.9 642.5,124.2 644.4,126.6 646.2,132.8 648.0,133.2 648.7,129.0" stroke="#3c96f5"/><polygon points="496.0,99.8 497.9,99.0 499.8,105.2 501.6,101.4 503.5,95.8 505.4,98.6 507.2,104.3 509.1,104.7 511.0,100.3 512.8,96.9 514.7,100.1 516.6,99.7 518.4,104.2 520.3,104.4 522.2,102.6 524.1,99.6 525.9,98.9 527.8,97.1 529.7,100.7 531.5,102.3 533.4,101.7 535.3,105.1 537.1,105.4 539.0,104.7 540.9,104.2 542.7,107.7 544.6,111.3 546.5,111.1 548.3,105.6 550.2,97.2 552.1,96.2 554.0,96.6 555.8,95.5 557.7,95.6 559.6,97.9 561.4,90.6 563.3,87.5 565.2,85.1 567.0,81.7 568.9,80.1 570.8,84.2 572.6,91.4 574.5,92.5 576.4,92.4 578.2,94.8 580.1,94.1 582.0,95.9 583.9,95.8 585.7,105.0 587.6,104.8 589.5,101.5 591.3,106.1 593.2,111.5 595.1,117.0 596.9,120.4 598.8,115.9 600.7,117.0 602.5,116.5 604.4,117.9 606.3,118.8 608.2,121.2 610.0,121.1 611.9,122.0 613.8,130.3 615.6,136.4 617.5,129.9 619.4,125.8 621.2,130.1 623.1,129.6 625.0,126.2 626.8,131.8 628.7,131.1 630.6,132.3 632.4,136.1 634.3,137.8 636.2,137.4 638.1,141.5 639.9,140.5 641.8,136.8 643.7,138.2 645.5,139.5 646.2,136.7 646.2,144.1 496.0,144.1" fill="#fff" stroke="none"/><polyline points="496.0,99.8 497.9,99.0 499.8,105.2 501.6,101.4 503.5,95.8 505.4,98.6 507.2,104.3 509.1,104.7 511.0,100.3 512.8,96.9 514.7,100.1 516.6,99.7 518.4,104.2 520.3,104.4 522.2,102.6 524.1,99.6 525.9,98.9 527.8,97.1 529.7,100.7 531.5,102.3 533.4,101.7 535.3,105.1 537.1,105.4 539.0,104.7 540.9,104.2 542.7,107.7 544.6,111.3 546.5,111.1 548.3,105.6 550.2,97.2 552.1,96.2 554.0,96.6 555.8,95.5 557.7,95.6 559.6,97.9 561.4,90.6 563.3,87.5 565.2,85.1 567.0,81.7 568.9,80.1 570.8,84.2 572.6,91.4 574.5,92.5 576.4,92.4 578.2,94.8 580.1,94.1 582.0,95.9 583.9,95.8 585.7,105.0 587.6,104.8 589.5,101.5 591.3,106.1 593.2,111.5 595.1,117.0 596.9,120.4 598.8,115.9 600.7,117.0 602.5,116.5 604.4,117.9 606.3,118.8 608.2,121.2 610.0,121.1 611.9,122.0 613.8,130.3 615.6,136.4 617.5,129.9 619.4,125.8 621.2,130.1 623.1,129.6 625.0,126.2 626.8,131.8 628.7,131.1 630.6,132.3 632.4,136.1 634.3,137.8 636.2,137.4 638.1,141.5 639.9,140.5 641.8,136.8 643.7,138.2 645.5,139.5 646.2,136.7" stroke="#32bef5"/><polygon points="490.8,111.6 492.7,109.0 494.6,103.0 496.5,105.5 498.4,108.7 500.3,107.1 502.2,107.5 504.1,109.7 506.0,109.7 507.9,106.7 509.8,110.6 511.7,116.1 513.7,110.5 515.6,109.3 517.5,109.3 519.4,108.2 521.3,109.1 523.2,107.0 525.1,106.4 527.0,110.2 528.9,109.4 530.8,106.1 532.7,105.3 534.6,106.8 536.5,107.5 538.4,109.1 540.3,111.3 542.2,107.3 544.1,105.1 546.0,105.4 547.9,104.1 549.8,100.9 551.7,98.4 553.6,102.4 555.5,98.5 557.4,94.3 559.3,86.0 561.2,87.2 563.1,88.7 565.0,86.5 566.9,90.5 568.8,93.1 570.7,95.4 572.6,93.5 574.5,97.7 576.4,102.7 578.3,107.7 580.2,112.3 582.1,111.0 584.0,114.1 585.9,117.9 587.8,112.8 589.7,118.1 591.6,120.2 593.5,115.7 595.4,118.4 597.3,122.2 599.2,119.8 601.1,121.6 603.0,126.7 604.9,127.2 606.8,128.4 608.7,126.4 610.6,124.8 612.6,131.9 614.5,134.2 616.4,134.9 618.3,136.1 620.2,131.3 622.1,128.5 624.0,134.9 625.9,141.9 627.8,140.3 629.7,135.4 631.6,138.0 633.5,142.7 635.4,144.8 637.3,138.3 639.2,136.8 641.1,140.0 643.0,143.5 643.7,141.9 643.7,150.1 490.8,150.1" fill="#fff" stroke="none"/><polyline points="490.8,111.6 492.7,109.0 494.6,103.0 496.5,105.5 498.4,108.7 500.3,107.1 502.2,107.5 504.1,109.7 506.0,109.7 507.9,106.7 509.8,110.6 511.7,116.1 513.7,110.5 515.6,109.3 517.5,109.3 519.4,108.2 521.3,109.1 523.2,107.0 525.1,106.4 527.0,110.2 528.9,109.4 530.8,106.1 532.7,105.3 534.6,106.8 536.5,107.5 538.4,109.1 540.3,111.3 542.2,107.3 544.1,105.1 546.0,105.4 547.9,104.1 549.8,100.9 551.7,98.4 553.6,102.4 555.5,98.5 557.4,94.3 559.3,86.0 561.2,87.2 563.1,88.7 565.0,86.5 566.9,90.5 568.8,93.1 570.7,95.4 572.6,93.5 574.5,97.7 576.4,102.7 578.3,107.7 580.2,112.3 582.1,111.0 584.0,114.1 585.9,117.9 587.8,112.8 589.7,118.1 591.6,120.2 593.5,115.7 595.4,118.4 597.3,122.2 599.2,119.8 601.1,121.6 603.0,126.7 604.9,127.2 606.8,128.4 608.7,126.4 610.6,124.8 612.6,131.9 614.5,134.2 616.4,134.9 618.3,136.1 620.2,131.3 622.1,128.5 624.0,134.9 625.9,141.9 627.8,140.3 629.7,135.4 631.6,138.0 633.5,142.7 635.4,144.8 637.3,138.3 639.2,136.8 641.1,140.0 643.0,143.5 643.7,141.9" stroke="#28dcf5"/><polygon points="485.5,111.4 487.5,112.1 489.4,107.0 491.3,105.1 493.3,109.1 495.2,111.8 497.2,111.2 499.1,112.7 501.0,114.4 503.0,113.5 504.9,110.7 506.8,108.1 508.8,110.4 510.7,116.5 512.6,120.6 514.6,118.6 516.5,114.5 518.4,110.3 520.4,114.4 522.3,117.4 524.3,109.4 526.2,107.4 528.1,112.7 530.1,118.3 532.0,116.4 533.9,113.1 535.9,113.2 537.8,116.4 539.7,114.2 541.7,109.4 543.6,113.7 545.5,108.0 547.5,109.1 549.4,103.2 551.4,100.9 553.3,99.6 555.2,96.6 557.2,90.7 559.1,92.1 561.0,96.6 563.0,100.9 564.9,98.2 566.8,100.2 568.8,106.7 570.7,111.3 572.6,110.4 574.6,111.2 576.5,112.6 578.5,109.5 580.4,114.8 582.3,124.2 584.3,122.6 586.2,115.0 588.1,118.5 590.1,122.5 592.0,127.6 593.9,129.1 595.9,131.8 597.8,137.0 599.7,139.2 601.7,136.7 603.6,136.9 605.5,139.5 607.5,139.1 609.4,137.6 611.4,132.4 613.3,137.2 615.2,131.9 617.2,136.9 619.1,140.1 621.0,141.7 623.0,140.9 624.9,140.3 626.8,143.2 628.8,144.5 630.7,143.7 632.6,142.7 634.6,139.4 636.5,139.3 638.5,147.0 640.4,147.5 641.1,148.5 641.1,156.2 485.5,156.2" fill="#fff" stroke="none"/><polyline points="485.5,111.4 487.5,112.1 489.4,107.0 491.3,105.1 493.3,109.1 495.2,111.8 497.2,111.2 499.1,112.7 501.0,114.4 503.0,113.5 504.9,110.7 506.8,108.1 508.8,110.4 510.7,116.5 512.6,120.6 514.6,118.6 516.5,114.5 518.4,110.3 520.4,114.4 522.3,117.4 524.3,109.4 526.2,107.4 528.1,112.7 530.1,118.3 532.0,116.4 533.9,113.1 535.9,113.2 537.8,116.4 539.7,114.2 541.7,109.4 543.6,113.7 545.5,108.0 547.5,109.1 549.4,103.2 551.4,100.9 553.3,99.6 555.2,96.6 557.2,90.7 559.1,92.1 561.0,96.6 563.0,100.9 564.9,98.2 566.8,100.2 568.8,106.7 570.7,111.3 572.6,110.4 574.6,111.2 576.5,112.6 578.5,109.5 580.4,114.8 582.3,124.2 584.3,122.6 586.2,115.0 588.1,118.5 590.1,122.5 592.0,127.6 593.9,129.1 595.9,131.8 597.8,137.0 599.7,139.2 601.7,136.7 603.6,136.9 605.5,139.5 607.5,139.1 609.4,137.6 611.4,132.4 613.3,137.2 615.2,131.9 617.2,136.9 619.1,140.1 621.0,141.7 623.0,140.9 624.9,140.3 626.8,143.2 628.8,144.5 630.7,143.7 632.6,142.7 634.6,139.4 636.5,139.3 638.5,147.0 640.4,147.5 641.1,148.5" stroke="#28dcdc"/><polygon points="480.2,111.4 482.1,117.6 484.1,122.4 486.1,111.9 488.0,103.0 490.0,103.6 492.0,112.2 493.9,116.9 495.9,116.4 497.9,123.4 499.9,120.2 501.8,114.8 503.8,114.3 505.8,117.2 507.7,124.7 509.7,126.0 511.7,118.0 513.6,114.6 515.6,119.6 517.6,122.3 519.6,116.8 521.5,113.2 523.5,117.8 525.5,119.6 527.4,111.7 529.4,113.2 531.4,118.6 533.3,120.2 535.3,119.8 537.3,114.5 539.3,119.1 541.2,121.2 543.2,113.9 545.2,109.2 547.1,121.8 549.1,116.5 551.1,104.4 553.0,101.6 555.0,101.6 557.0,102.5 559.0,104.2 560.9,103.9 562.9,106.6 564.9,113.1 566.8,119.5 568.8,122.3 570.8,124.3 572.7,120.3 574.7,120.1 576.7,118.5 578.7,118.9 580.6,124.2 582.6,125.9 584.6,128.8 586.5,130.1 588.5,135.7 590.5,135.1 592.4,135.6 594.4,135.0 596.4,138.0 598.4,141.0 600.3,135.9 602.3,140.2 604.3,144.5 606.2,142.6 608.2,147.1 610.2,148.3 612.1,142.0 614.1,144.0 616.1,149.9 618.1,147.5 620.0,143.8 622.0,146.0 624.0,147.4 625.9,148.6 627.9,146.0 629.9,143.7 631.8,147.8 633.8,152.6 635.8,153.6 637.8,152.2 638.5,152.4 638.5,162.5 480.2,162.5" fill="#fff" stroke="none"/><polyline points="480.2,111.4 482.1,117.6 484.1,122.4 486.1,111.9 488.0,103.0 490.0,103.6 492.0,112.2 493.9,116.9 495.9,116.4 497.9,123.4 499.9,120.2 501.8,114.8 503.8,114.3 505.8,117.2 507.7,124.7 509.7,126.0 511.7,118.0 513.6,114.6 515.6,119.6 517.6,122.3 519.6,116.8 521.5,113.2 523.5,117.8 525.5,119.6 527.4,111.7 529.4,113.2 531.4,118.6 533.3,120.2 535.3,119.8 537.3,114.5 539.3,119.1 541.2,121.2 543.2,113.9 545.2,109.2 547.1,121.8 549.1,116.5 551.1,104.4 553.0,101.6 555.0,101.6 557.0,102.5 559.0,104.2 560.9,103.9 562.9,106.6 564.9,113.1 566.8,119.5 568.8,122.3 570.8,124.3 572.7,120.3 574.7,120.1 576.7,118.5 578.7,118.9 580.6,124.2 582.6,125.9 584.6,128.8 586.5,130.1 588.5,135.7 590.5,135.1 592.4,135.6 594.4,135.0 596.4,138.0 598.4,141.0 600.3,135.9 602.3,140.2 604.3,144.5 606.2,142.6 608.2,147.1 610.2,148.3 612.1,142.0 614.1,144.0 616.1,149.9 618.1,147.5 620.0,143.8 622.0,146.0 624.0,147.4 625.9,148.6 627.9,146.0 629.9,143.7 631.8,147.8 633.8,152.6 635.8,153.6 637.8,152.2 638.5,152.4" stroke="#28d796"/><polygon points="474.7,119.2 476.7,121.2 478.7,121.7 480.7,121.4 482.7,115.3 484.7,121.9 486.7,122.4 488.7,120.0 490.7,114.0 492.7,119.6 494.7,126.1 496.7,126.2 498.7,127.3 500.7,127.4 502.8,126.3 504.8,127.6 506.8,124.6 508.8,129.1 510.8,124.7 512.8,120.4 514.8,119.0 516.8,116.5 518.8,119.8 520.8,121.0 522.8,123.2 524.8,121.6 526.8,131.1 528.8,127.6 530.8,125.9 532.8,122.9 534.8,125.9 536.8,123.4 538.8,120.9 540.8,122.5 542.8,118.1 544.9,114.0 546.9,114.8 548.9,114.2 550.9,108.9 552.9,104.3 554.9,110.6 556.9,113.1 558.9,123.1 560.9,124.2 562.9,120.7 564.9,120.2 566.9,124.6 568.9,127.7 570.9,134.2 572.9,133.9 574.9,129.3 576.9,131.3 578.9,136.1 580.9,139.0 582.9,130.8 584.9,131.3 587.0,138.1 589.0,141.0 591.0,145.3 593.0,142.4 595.0,144.1 597.0,149.9 599.0,156.4 601.0,156.1 603.0,155.0 605.0,149.5 607.0,150.2 609.0,146.0 611.0,149.6 613.0,153.6 615.0,148.2 617.0,147.8 619.0,154.7 621.0,161.2 623.0,154.8 625.0,152.0 627.0,155.0 629.0,161.6 631.1,165.9 633.1,168.1 635.1,168.7 635.8,163.4 635.8,168.9 474.7,168.9" fill="#fff" stroke="none"/><polyline points="474.7,119.2 476.7,121.2 478.7,121.7 480.7,121.4 482.7,115.3 484.7,121.9 486.7,122.4 488.7,120.0 490.7,114.0 492.7,119.6 494.7,126.1 496.7,126.2 498.7,127.3 500.7,127.4 502.8,126.3 504.8,127.6 506.8,124.6 508.8,129.1 510.8,124.7 512.8,120.4 514.8,119.0 516.8,116.5 518.8,119.8 520.8,121.0 522.8,123.2 524.8,121.6 526.8,131.1 528.8,127.6 530.8,125.9 532.8,122.9 534.8,125.9 536.8,123.4 538.8,120.9 540.8,122.5 542.8,118.1 544.9,114.0 546.9,114.8 548.9,114.2 550.9,108.9 552.9,104.3 554.9,110.6 556.9,113.1 558.9,123.1 560.9,124.2 562.9,120.7 564.9,120.2 566.9,124.6 568.9,127.7 570.9,134.2 572.9,133.9 574.9,129.3 576.9,131.3 578.9,136.1 580.9,139.0 582.9,130.8 584.9,131.3 587.0,138.1 589.0,141.0 591.0,145.3 593.0,142.4 595.0,144.1 597.0,149.9 599.0,156.4 601.0,156.1 603.0,155.0 605.0,149.5 607.0,150.2 609.0,146.0 611.0,149.6 613.0,153.6 615.0,148.2 617.0,147.8 619.0,154.7 621.0,161.2 623.0,154.8 625.0,152.0 627.0,155.0 629.0,161.6 631.1,165.9 633.1,168.1 635.1,168.7 635.8,163.4" stroke="#37d732"/><polygon points="469.1,128.8 471.2,127.1 473.2,128.0 475.2,123.4 477.3,116.6 479.3,121.0 481.4,124.4 483.4,130.2 485.4,130.6 487.5,126.9 489.5,131.4 491.6,132.1 493.6,128.3 495.6,128.8 497.7,128.0 499.7,130.3 501.8,129.6 503.8,137.6 505.8,137.2 507.9,135.4 509.9,132.6 512.0,134.0 514.0,129.3 516.0,131.6 518.1,128.3 520.1,128.5 522.2,125.6 524.2,126.0 526.2,131.2 528.3,129.5 530.3,126.5 532.4,125.8 534.4,121.4 536.4,120.6 538.5,126.6 540.5,130.1 542.6,121.7 544.6,114.6 546.6,118.1 548.7,120.4 550.7,120.1 552.8,117.3 554.8,119.5 556.8,130.0 558.9,128.3 560.9,133.1 563.0,136.9 565.0,132.0 567.0,135.4 569.1,138.9 571.1,139.9 573.2,142.1 575.2,140.3 577.2,141.3 579.3,136.3 581.3,140.7 583.4,147.1 585.4,149.9 587.4,152.2 589.5,148.6 591.5,150.7 593.6,158.7 595.6,154.8 597.6,151.1 599.7,152.0 601.7,157.5 603.8,159.9 605.8,157.7 607.8,155.1 609.9,156.2 611.9,158.5 614.0,161.9 616.0,166.0 618.0,167.4 620.1,162.8 622.1,163.4 624.2,159.5 626.2,155.5 628.3,164.5 630.3,162.6 632.3,167.2 633.1,168.2 633.1,175.3 469.1,175.3" fill="#fff" stroke="none"/><polyline points="469.1,128.8 471.2,127.1 473.2,128.0 475.2,123.4 477.3,116.6 479.3,121.0 481.4,124.4 483.4,130.2 485.4,130.6 487.5,126.9 489.5,131.4 491.6,132.1 493.6,128.3 495.6,128.8 497.7,128.0 499.7,130.3 501.8,129.6 503.8,137.6 505.8,137.2 507.9,135.4 509.9,132.6 512.0,134.0 514.0,129.3 516.0,131.6 518.1,128.3 520.1,128.5 522.2,125.6 524.2,126.0 526.2,131.2 528.3,129.5 530.3,126.5 532.4,125.8 534.4,121.4 536.4,120.6 538.5,126.6 540.5,130.1 542.6,121.7 544.6,114.6 546.6,118.1 548.7,120.4 550.7,120.1 552.8,117.3 554.8,119.5 556.8,130.0 558.9,128.3 560.9,133.1 563.0,136.9 565.0,132.0 567.0,135.4 569.1,138.9 571.1,139.9 573.2,142.1 575.2,140.3 577.2,141.3 579.3,136.3 581.3,140.7 583.4,147.1 585.4,149.9 587.4,152.2 589.5,148.6 591.5,150.7 593.6,158.7 595.6,154.8 597.6,151.1 599.7,152.0 601.7,157.5 603.8,159.9 605.8,157.7 607.8,155.1 609.9,156.2 611.9,158.5 614.0,161.9 616.0,166.0 618.0,167.4 620.1,162.8 622.1,163.4 624.2,159.5 626.2,155.5 628.3,164.5 630.3,162.6 632.3,167.2 633.1,168.2" stroke="#50dc28"/><polygon points="463.4,128.4 465.5,126.2 467.6,131.5 469.7,136.5 471.8,132.8 473.8,128.6 475.9,124.7 478.0,125.7 480.1,136.2 482.1,137.1 484.2,133.5 486.3,130.6 488.4,134.1 490.4,136.8 492.5,137.4 494.6,140.1 496.7,138.1 498.7,134.4 500.8,136.7 502.9,142.8 505.0,142.4 507.0,131.5 509.1,129.4 511.2,135.3 513.3,136.5 515.4,132.9 517.4,130.9 519.5,128.7 521.6,128.2 523.7,136.0 525.7,142.9 527.8,135.9 529.9,137.2 532.0,139.5 534.0,129.3 536.1,123.6 538.2,127.6 540.3,124.2 542.3,121.0 544.4,122.6 546.5,124.3 548.6,128.9 550.7,131.9 552.7,132.9 554.8,133.4 556.9,137.4 559.0,143.2 561.0,143.7 563.1,141.3 565.2,142.6 567.3,145.0 569.3,145.2 571.4,146.2 573.5,142.7 575.6,144.3 577.6,139.8 579.7,148.3 581.8,156.4 583.9,153.8 585.9,157.3 588.0,160.0 590.1,157.8 592.2,153.7 594.3,160.1 596.3,167.5 598.4,170.9 600.5,168.7 602.6,166.7 604.6,167.1 606.7,166.7 608.8,168.1 610.9,170.5 612.9,174.6 615.0,166.6 617.1,171.9 619.2,171.6 621.2,170.1 623.3,168.6 625.4,167.4 627.5,168.1 629.6,168.6 630.3,173.6 630.3,181.9 463.4,181.9" fill="#fff" stroke="none"/><polyline points="463.4,128.4 465.5,126.2 467.6,131.5 469.7,136.5 471.8,132.8 473.8,128.6 475.9,124.7 478.0,125.7 480.1,136.2 482.1,137.1 484.2,133.5 486.3,130.6 488.4,134.1 490.4,136.8 492.5,137.4 494.6,140.1 496.7,138.1 498.7,134.4 500.8,136.7 502.9,142.8 505.0,142.4 507.0,131.5 509.1,129.4 511.2,135.3 513.3,136.5 515.4,132.9 517.4,130.9 519.5,128.7 521.6,128.2 523.7,136.0 525.7,142.9 527.8,135.9 529.9,137.2 532.0,139.5 534.0,129.3 536.1,123.6 538.2,127.6 540.3,124.2 542.3,121.0 544.4,122.6 546.5,124.3 548.6,128.9 550.7,131.9 552.7,132.9 554.8,133.4 556.9,137.4 559.0,143.2 561.0,143.7 563.1,141.3 565.2,142.6 567.3,145.0 569.3,145.2 571.4,146.2 573.5,142.7 575.6,144.3 577.6,139.8 579.7,148.3 581.8,156.4 583.9,153.8 585.9,157.3 588.0,160.0 590.1,157.8 592.2,153.7 594.3,160.1 596.3,167.5 598.4,170.9 600.5,168.7 602.6,166.7 604.6,167.1 606.7,166.7 608.8,168.1 610.9,170.5 612.9,174.6 615.0,166.6 617.1,171.9 619.2,171.6 621.2,170.1 623.3,168.6 625.4,167.4 627.5,168.1 629.6,168.6 630.3,173.6" stroke="#8ce628"/><polygon points="457.7,130.8 459.8,136.6 461.9,140.6 464.0,135.2 466.1,135.1 468.2,138.0 470.4,138.6 472.5,138.6 474.6,137.2 476.7,138.5 478.8,141.9 480.9,140.9 483.0,143.5 485.2,145.4 487.3,140.7 489.4,136.4 491.5,137.5 493.6,137.0 495.7,134.4 497.8,137.0 499.9,140.4 502.1,140.1 504.2,136.9 506.3,142.4 508.4,143.5 510.5,139.0 512.6,139.3 514.7,144.5 516.8,141.4 519.0,141.6 521.1,141.8 523.2,142.5 525.3,139.7 527.4,134.2 529.5,135.5 531.6,139.1 533.8,138.9 535.9,140.9 538.0,142.5 540.1,137.0 542.2,131.3 544.3,133.6 546.4,137.5 548.5,131.3 550.7,136.3 552.8,144.8 554.9,145.7 557.0,146.6 559.1,147.0 561.2,141.9 563.3,142.3 565.4,149.2 567.6,150.9 569.7,152.8 571.8,157.9 573.9,163.4 576.0,164.3 578.1,160.2 580.2,160.3 582.4,162.2 584.5,163.2 586.6,164.6 588.7,169.6 590.8,176.8 592.9,176.3 595.0,167.5 597.1,170.0 599.3,176.3 601.4,175.1 603.5,169.2 605.6,164.8 607.7,166.3 609.8,170.0 611.9,173.4 614.0,177.8 616.2,176.2 618.3,177.2 620.4,178.4 622.5,181.9 624.6,178.1 626.7,178.0 627.5,177.3 627.5,188.6 457.7,188.6" fill="#fff" stroke="none"/><polyline points="457.7,130.8 459.8,136.6 461.9,140.6 464.0,135.2 466.1,135.1 468.2,138.0 470.4,138.6 472.5,138.6 474.6,137.2 476.7,138.5 478.8,141.9 480.9,140.9 483.0,143.5 485.2,145.4 487.3,140.7 489.4,136.4 491.5,137.5 493.6,137.0 495.7,134.4 497.8,137.0 499.9,140.4 502.1,140.1 504.2,136.9 506.3,142.4 508.4,143.5 510.5,139.0 512.6,139.3 514.7,144.5 516.8,141.4 519.0,141.6 521.1,141.8 523.2,142.5 525.3,139.7 527.4,134.2 529.5,135.5 531.6,139.1 533.8,138.9 535.9,140.9 538.0,142.5 540.1,137.0 542.2,131.3 544.3,133.6 546.4,137.5 548.5,131.3 550.7,136.3 552.8,144.8 554.9,145.7 557.0,146.6 559.1,147.0 561.2,141.9 563.3,142.3 565.4,149.2 567.6,150.9 569.7,152.8 571.8,157.9 573.9,163.4 576.0,164.3 578.1,160.2 580.2,160.3 582.4,162.2 584.5,163.2 586.6,164.6 588.7,169.6 590.8,176.8 592.9,176.3 595.0,167.5 597.1,170.0 599.3,176.3 601.4,175.1 603.5,169.2 605.6,164.8 607.7,166.3 609.8,170.0 611.9,173.4 614.0,177.8 616.2,176.2 618.3,177.2 620.4,178.4 622.5,181.9 624.6,178.1 626.7,178.0 627.5,177.3" stroke="#c8ee28"/><polygon points="451.8,123.0 454.0,135.5 456.1,143.3 458.3,140.0 460.4,140.2 462.6,149.5 464.7,145.9 466.9,138.1 469.0,133.8 471.2,141.2 473.3,142.2 475.5,144.7 477.6,138.8 479.8,132.4 481.9,138.6 484.1,151.7 486.2,155.1 488.4,154.8 490.5,152.7 492.7,150.6 494.8,140.6 497.0,140.7 499.1,137.9 501.3,144.6 503.4,147.8 505.6,148.4 507.7,147.0 509.9,146.1 512.0,147.7 514.2,152.3 516.3,153.9 518.5,148.0 520.6,143.0 522.8,144.8 524.9,148.1 527.1,142.7 529.2,146.2 531.4,149.9 533.5,146.0 535.7,146.0 537.8,139.2 540.0,142.6 542.1,149.7 544.3,151.2 546.4,151.2 548.6,154.5 550.7,154.2 552.9,147.9 555.0,155.2 557.2,162.1 559.3,165.8 561.5,159.0 563.6,157.1 565.8,159.6 567.9,163.5 570.1,160.5 572.2,168.7 574.4,172.4 576.5,170.1 578.7,169.0 580.8,164.1 583.0,159.6 585.1,165.9 587.3,165.9 589.4,169.7 591.6,178.3 593.7,183.0 595.9,180.8 598.0,183.1 600.2,182.2 602.3,179.0 604.5,179.2 606.6,179.1 608.8,188.4 610.9,184.5 613.1,170.8 615.3,173.8 617.4,178.5 619.6,180.9 621.7,188.9 623.9,188.8 624.6,184.6 624.6,195.4 451.8,195.4" fill="#fff" stroke="none"/><polyline points="451.8,123.0 454.0,135.5 456.1,143.3 458.3,140.0 460.4,140.2 462.6,149.5 464.7,145.9 466.9,138.1 469.0,133.8 471.2,141.2 473.3,142.2 475.5,144.7 477.6,138.8 479.8,132.4 481.9,138.6 484.1,151.7 486.2,155.1 488.4,154.8 490.5,152.7 492.7,150.6 494.8,140.6 497.0,140.7 499.1,137.9 501.3,144.6 503.4,147.8 505.6,148.4 507.7,147.0 509.9,146.1 512.0,147.7 514.2,152.3 516.3,153.9 518.5,148.0 520.6,143.0 522.8,144.8 524.9,148.1 527.1,142.7 529.2,146.2 531.4,149.9 533.5,146.0 535.7,146.0 537.8,139.2 540.0,142.6 542.1,149.7 544.3,151.2 546.4,151.2 548.6,154.5 550.7,154.2 552.9,147.9 555.0,155.2 557.2,162.1 559.3,165.8 561.5,159.0 563.6,157.1 565.8,159.6 567.9,163.5 570.1,160.5 572.2,168.7 574.4,172.4 576.5,170.1 578.7,169.0 580.8,164.1 583.0,159.6 585.1,165.9 587.3,165.9 589.4,169.7 591.6,178.3 593.7,183.0 595.9,180.8 598.0,183.1 600.2,182.2 602.3,179.0 604.5,179.2 606.6,179.1 608.8,188.4 610.9,184.5 613.1,170.8 615.3,173.8 617.4,178.5 619.6,180.9 621.7,188.9 623.9,188.8 624.6,184.6" stroke="#f5f023"/><polygon points="445.9,154.2 448.1,147.8 450.3,142.8 452.4,151.0 454.6,148.9 456.8,148.3 459.0,144.2 461.2,149.9 463.4,150.5 465.6,142.4 467.8,143.4 469.9,153.0 472.1,161.7 474.3,160.1 476.5,151.5 478.7,151.4 480.9,155.8 483.1,148.8 485.3,149.8 487.5,154.9 489.6,154.6 491.8,154.1 494.0,155.4 496.2,152.9 498.4,155.0 500.6,155.0 502.8,151.5 505.0,154.8 507.1,161.4 509.3,159.5 511.5,160.1 513.7,156.0 515.9,155.3 518.1,158.5 520.3,149.5 522.5,143.9 524.7,149.5 526.8,155.4 529.0,152.4 531.2,149.1 533.4,148.3 535.6,150.8 537.8,157.2 540.0,158.0 542.2,151.4 544.3,145.8 546.5,155.2 548.7,160.3 550.9,157.7 553.1,155.9 555.3,165.7 557.5,177.0 559.7,173.9 561.8,173.6 564.0,177.0 566.2,179.4 568.4,174.8 570.6,163.9 572.8,168.4 575.0,176.2 577.2,183.1 579.4,181.8 581.5,179.4 583.7,181.6 585.9,180.5 588.1,174.1 590.3,174.4 592.5,181.6 594.7,189.6 596.9,187.9 599.0,190.6 601.2,190.4 603.4,187.5 605.6,184.4 607.8,186.0 610.0,195.1 612.2,189.4 614.4,190.3 616.6,191.5 618.7,191.4 620.9,185.1 621.7,187.2 621.7,202.3 445.9,202.3" fill="#fff" stroke="none"/><polyline points="445.9,154.2 448.1,147.8 450.3,142.8 452.4,151.0 454.6,148.9 456.8,148.3 459.0,144.2 461.2,149.9 463.4,150.5 465.6,142.4 467.8,143.4 469.9,153.0 472.1,161.7 474.3,160.1 476.5,151.5 478.7,151.4 480.9,155.8 483.1,148.8 485.3,149.8 487.5,154.9 489.6,154.6 491.8,154.1 494.0,155.4 496.2,152.9 498.4,155.0 500.6,155.0 502.8,151.5 505.0,154.8 507.1,161.4 509.3,159.5 511.5,160.1 513.7,156.0 515.9,155.3 518.1,158.5 520.3,149.5 522.5,143.9 524.7,149.5 526.8,155.4 529.0,152.4 531.2,149.1 533.4,148.3 535.6,150.8 537.8,157.2 540.0,158.0 542.2,151.4 544.3,145.8 546.5,155.2 548.7,160.3 550.9,157.7 553.1,155.9 555.3,165.7 557.5,177.0 559.7,173.9 561.8,173.6 564.0,177.0 566.2,179.4 568.4,174.8 570.6,163.9 572.8,168.4 575.0,176.2 577.2,183.1 579.4,181.8 581.5,179.4 583.7,181.6 585.9,180.5 588.1,174.1 590.3,174.4 592.5,181.6 594.7,189.6 596.9,187.9 599.0,190.6 601.2,190.4 603.4,187.5 605.6,184.4 607.8,186.0 610.0,195.1 612.2,189.4 614.4,190.3 616.6,191.5 618.7,191.4 620.9,185.1 621.7,187.2" stroke="#f8d728"/><polygon points="439.8,149.6 442.1,150.9 444.3,152.2 446.5,152.3 448.7,157.5 451.0,152.4 453.2,154.8 455.4,157.9 457.6,162.4 459.9,164.7 462.1,159.5 464.3,154.1 466.5,153.9 468.8,154.0 471.0,157.4 473.2,157.9 475.5,160.4 477.7,163.6 479.9,161.8 482.1,160.6 484.4,157.8 486.6,160.2 488.8,160.5 491.0,157.9 493.3,157.4 495.5,161.5 497.7,162.9 499.9,160.9 502.2,159.9 504.4,166.9 506.6,164.9 508.9,153.1 511.1,159.5 513.3,165.1 515.5,170.7 517.8,166.0 520.0,162.5 522.2,163.0 524.4,162.4 526.7,160.6 528.9,158.2 531.1,159.1 533.3,168.4 535.6,170.5 537.8,165.2 540.0,166.9 542.3,173.4 544.5,177.1 546.7,175.3 548.9,171.7 551.2,168.8 553.4,168.0 555.6,172.0 557.8,176.8 560.1,170.7 562.3,173.4 564.5,179.4 566.8,180.5 569.0,179.2 571.2,184.3 573.4,186.3 575.7,183.9 577.9,183.0 580.1,190.5 582.3,189.3 584.6,197.4 586.8,195.9 589.0,189.5 591.2,188.4 593.5,193.9 595.7,188.1 597.9,186.9 600.2,193.4 602.4,195.3 604.6,197.4 606.8,198.8 609.1,186.7 611.3,191.5 613.5,199.3 615.7,194.8 618.0,194.0 618.8,196.4 618.8,209.3 439.8,209.3" fill="#fff" stroke="none"/><polyline points="439.8,149.6 442.1,150.9 444.3,152.2 446.5,152.3 448.7,157.5 451.0,152.4 453.2,154.8 455.4,157.9 457.6,162.4 459.9,164.7 462.1,159.5 464.3,154.1 466.5,153.9 468.8,154.0 471.0,157.4 473.2,157.9 475.5,160.4 477.7,163.6 479.9,161.8 482.1,160.6 484.4,157.8 486.6,160.2 488.8,160.5 491.0,157.9 493.3,157.4 495.5,161.5 497.7,162.9 499.9,160.9 502.2,159.9 504.4,166.9 506.6,164.9 508.9,153.1 511.1,159.5 513.3,165.1 515.5,170.7 517.8,166.0 520.0,162.5 522.2,163.0 524.4,162.4 526.7,160.6 528.9,158.2 531.1,159.1 533.3,168.4 535.6,170.5 537.8,165.2 540.0,166.9 542.3,173.4 544.5,177.1 546.7,175.3 548.9,171.7 551.2,168.8 553.4,168.0 555.6,172.0 557.8,176.8 560.1,170.7 562.3,173.4 564.5,179.4 566.8,180.5 569.0,179.2 571.2,184.3 573.4,186.3 575.7,183.9 577.9,183.0 580.1,190.5 582.3,189.3 584.6,197.4 586.8,195.9 589.0,189.5 591.2,188.4 593.5,193.9 595.7,188.1 597.9,186.9 600.2,193.4 602.4,195.3 604.6,197.4 606.8,198.8 609.1,186.7 611.3,191.5 613.5,199.3 615.7,194.8 618.0,194.0 618.8,196.4" stroke="#f5a52d"/><polygon points="433.7,128.4 436.0,149.0 438.2,157.1 440.5,159.2 442.7,155.9 445.0,157.6 447.3,155.2 449.5,152.8 451.8,155.6 454.1,160.0 456.3,169.0 458.6,161.9 460.9,163.7 463.1,167.8 465.4,167.5 467.7,171.0 469.9,174.0 472.2,176.0 474.5,172.8 476.7,173.5 479.0,170.4 481.3,164.4 483.5,167.5 485.8,172.2 488.1,166.7 490.3,163.8 492.6,167.5 494.9,169.4 497.1,171.5 499.4,172.9 501.7,166.6 503.9,167.1 506.2,170.2 508.5,170.7 510.7,168.5 513.0,164.0 515.3,170.6 517.5,176.0 519.8,169.2 522.1,164.1 524.3,166.1 526.6,173.5 528.8,176.1 531.1,168.0 533.4,175.2 535.6,176.3 537.9,177.6 540.2,180.7 542.4,182.2 544.7,185.6 547.0,186.3 549.2,185.0 551.5,180.4 553.8,175.2 556.0,184.0 558.3,182.5 560.6,185.8 562.8,191.9 565.1,196.1 567.4,194.5 569.6,196.1 571.9,193.1 574.2,194.3 576.4,198.4 578.7,193.1 581.0,195.5 583.2,196.6 585.5,196.6 587.8,197.5 590.0,192.1 592.3,190.1 594.6,194.6 596.8,192.5 599.1,189.5 601.4,194.8 603.6,198.6 605.9,195.8 608.2,199.1 610.4,204.1 612.7,208.0 615.0,205.0 615.8,205.6 615.8,216.5 433.7,216.5" fill="#fff" stroke="none"/><polyline points="433.7,128.4 436.0,149.0 438.2,157.1 440.5,159.2 442.7,155.9 445.0,157.6 447.3,155.2 449.5,152.8 451.8,155.6 454.1,160.0 456.3,169.0 458.6,161.9 460.9,163.7 463.1,167.8 465.4,167.5 467.7,171.0 469.9,174.0 472.2,176.0 474.5,172.8 476.7,173.5 479.0,170.4 481.3,164.4 483.5,167.5 485.8,172.2 488.1,166.7 490.3,163.8 492.6,167.5 494.9,169.4 497.1,171.5 499.4,172.9 501.7,166.6 503.9,167.1 506.2,170.2 508.5,170.7 510.7,168.5 513.0,164.0 515.3,170.6 517.5,176.0 519.8,169.2 522.1,164.1 524.3,166.1 526.6,173.5 528.8,176.1 531.1,168.0 533.4,175.2 535.6,176.3 537.9,177.6 540.2,180.7 542.4,182.2 544.7,185.6 547.0,186.3 549.2,185.0 551.5,180.4 553.8,175.2 556.0,184.0 558.3,182.5 560.6,185.8 562.8,191.9 565.1,196.1 567.4,194.5 569.6,196.1 571.9,193.1 574.2,194.3 576.4,198.4 578.7,193.1 581.0,195.5 583.2,196.6 585.5,196.6 587.8,197.5 590.0,192.1 592.3,190.1 594.6,194.6 596.8,192.5 599.1,189.5 601.4,194.8 603.6,198.6 605.9,195.8 608.2,199.1 610.4,204.1 612.7,208.0 615.0,205.0 615.8,205.6" stroke="#f28c28"/><polygon points="427.4,161.9 429.8,166.5 432.1,166.0 434.4,165.4 436.7,162.6 439.0,157.5 441.3,165.3 443.6,169.5 445.9,168.5 448.2,164.9 450.5,168.9 452.8,168.6 455.1,164.7 457.4,166.7 459.7,170.7 462.0,164.0 464.3,166.0 466.6,166.7 468.9,166.8 471.3,165.2 473.6,172.7 475.9,175.7 478.2,170.9 480.5,167.9 482.8,171.6 485.1,169.3 487.4,169.9 489.7,177.9 492.0,171.1 494.3,170.9 496.6,177.8 498.9,179.1 501.2,178.6 503.5,175.9 505.8,178.3 508.1,173.9 510.4,173.3 512.8,182.3 515.1,178.3 517.4,178.3 519.7,180.1 522.0,178.3 524.3,182.3 526.6,188.7 528.9,186.8 531.2,185.0 533.5,188.8 535.8,187.8 538.1,174.7 540.4,174.9 542.7,179.6 545.0,188.9 547.3,198.2 549.6,193.7 551.9,190.2 554.3,194.4 556.6,196.1 558.9,191.1 561.2,186.0 563.5,192.6 565.8,198.2 568.1,200.0 570.4,194.4 572.7,197.7 575.0,201.6 577.3,204.0 579.6,204.8 581.9,199.6 584.2,193.9 586.5,199.4 588.8,202.4 591.1,206.1 593.4,206.3 595.8,208.5 598.1,202.0 600.4,205.2 602.7,204.5 605.0,203.2 607.3,199.8 609.6,201.9 611.9,206.4 612.7,215.2 612.7,223.7 427.4,223.7" fill="#fff" stroke="none"/><polyline points="427.4,161.9 429.8,166.5 432.1,166.0 434.4,165.4 436.7,162.6 439.0,157.5 441.3,165.3 443.6,169.5 445.9,168.5 448.2,164.9 450.5,168.9 452.8,168.6 455.1,164.7 457.4,166.7 459.7,170.7 462.0,164.0 464.3,166.0 466.6,166.7 468.9,166.8 471.3,165.2 473.6,172.7 475.9,175.7 478.2,170.9 480.5,167.9 482.8,171.6 485.1,169.3 487.4,169.9 489.7,177.9 492.0,171.1 494.3,170.9 496.6,177.8 498.9,179.1 501.2,178.6 503.5,175.9 505.8,178.3 508.1,173.9 510.4,173.3 512.8,182.3 515.1,178.3 517.4,178.3 519.7,180.1 522.0,178.3 524.3,182.3 526.6,188.7 528.9,186.8 531.2,185.0 533.5,188.8 535.8,187.8 538.1,174.7 540.4,174.9 542.7,179.6 545.0,188.9 547.3,198.2 549.6,193.7 551.9,190.2 554.3,194.4 556.6,196.1 558.9,191.1 561.2,186.0 563.5,192.6 565.8,198.2 568.1,200.0 570.4,194.4 572.7,197.7 575.0,201.6 577.3,204.0 579.6,204.8 581.9,199.6 584.2,193.9 586.5,199.4 588.8,202.4 591.1,206.1 593.4,206.3 595.8,208.5 598.1,202.0 600.4,205.2 602.7,204.5 605.0,203.2 607.3,199.8 609.6,201.9 611.9,206.4 612.7,215.2" stroke="#f07328"/><polygon points="421.1,173.0 423.5,171.3 425.8,173.6 428.2,170.8 430.5,178.0 432.8,178.4 435.2,179.4 437.5,181.9 439.9,175.3 442.2,181.4 444.6,183.2 446.9,178.3 449.3,174.4 451.6,175.6 454.0,169.2 456.3,174.7 458.6,178.1 461.0,176.6 463.3,179.8 465.7,184.3 468.0,183.0 470.4,177.7 472.7,173.0 475.1,176.9 477.4,182.3 479.8,191.3 482.1,187.0 484.5,181.2 486.8,174.1 489.1,174.8 491.5,181.3 493.8,183.0 496.2,186.3 498.5,189.3 500.9,187.9 503.2,187.8 505.6,185.1 507.9,184.1 510.3,185.8 512.6,185.1 514.9,191.7 517.3,190.3 519.6,191.4 522.0,197.0 524.3,189.9 526.7,185.2 529.0,183.9 531.4,189.6 533.7,189.9 536.1,192.9 538.4,200.7 540.8,199.2 543.1,202.3 545.4,197.8 547.8,195.0 550.1,200.6 552.5,207.2 554.8,198.3 557.2,198.4 559.5,200.7 561.9,207.6 564.2,206.3 566.6,199.8 568.9,207.2 571.3,211.8 573.6,210.4 575.9,208.5 578.3,216.2 580.6,215.7 583.0,212.0 585.3,200.8 587.7,203.8 590.0,210.2 592.4,212.1 594.7,214.6 597.1,216.2 599.4,213.0 601.7,207.7 604.1,214.1 606.4,216.5 608.8,212.8 609.6,208.5 609.6,231.1 421.1,231.1" fill="#fff" stroke="none"/><polyline points="421.1,173.0 423.5,171.3 425.8,173.6 428.2,170.8 430.5,178.0 432.8,178.4 435.2,179.4 437.5,181.9 439.9,175.3 442.2,181.4 444.6,183.2 446.9,178.3 449.3,174.4 451.6,175.6 454.0,169.2 456.3,174.7 458.6,178.1 461.0,176.6 463.3,179.8 465.7,184.3 468.0,183.0 470.4,177.7 472.7,173.0 475.1,176.9 477.4,182.3 479.8,191.3 482.1,187.0 484.5,181.2 486.8,174.1 489.1,174.8 491.5,181.3 493.8,183.0 496.2,186.3 498.5,189.3 500.9,187.9 503.2,187.8 505.6,185.1 507.9,184.1 510.3,185.8 512.6,185.1 514.9,191.7 517.3,190.3 519.6,191.4 522.0,197.0 524.3,189.9 526.7,185.2 529.0,183.9 531.4,189.6 533.7,189.9 536.1,192.9 538.4,200.7 540.8,199.2 543.1,202.3 545.4,197.8 547.8,195.0 550.1,200.6 552.5,207.2 554.8,198.3 557.2,198.4 559.5,200.7 561.9,207.6 564.2,206.3 566.6,199.8 568.9,207.2 571.3,211.8 573.6,210.4 575.9,208.5 578.3,216.2 580.6,215.7 583.0,212.0 585.3,200.8 587.7,203.8 590.0,210.2 592.4,212.1 594.7,214.6 597.1,216.2 599.4,213.0 601.7,207.7 604.1,214.1 606.4,216.5 608.8,212.8 609.6,208.5" stroke="#ee3728"/><polygon points="414.7,164.3 417.1,170.8 419.5,181.1 421.8,180.4 424.2,175.2 426.6,175.7 429.0,176.7 431.4,183.1 433.8,170.9 436.2,171.3 438.6,184.9 440.9,185.7 443.3,185.5 445.7,183.5 448.1,179.8 450.5,185.4 452.9,187.4 455.3,180.4 457.6,178.3 460.0,184.6 462.4,187.0 464.8,190.5 467.2,181.0 469.6,174.8 472.0,181.9 474.4,190.7 476.7,198.5 479.1,197.0 481.5,198.6 483.9,187.7 486.3,180.3 488.7,182.9 491.1,189.1 493.5,191.6 495.8,195.5 498.2,193.7 500.6,193.2 503.0,198.7 505.4,207.0 507.8,198.2 510.2,195.3 512.5,199.1 514.9,195.6 517.3,197.1 519.7,205.7 522.1,199.1 524.5,202.4 526.9,206.0 529.3,203.1 531.6,205.9 534.0,207.6 536.4,210.0 538.8,211.1 541.2,213.0 543.6,212.7 546.0,215.3 548.3,214.6 550.7,206.8 553.1,208.4 555.5,207.3 557.9,203.6 560.3,208.5 562.7,215.8 565.1,219.8 567.4,213.9 569.8,212.0 572.2,212.1 574.6,217.2 577.0,223.0 579.4,227.5 581.8,221.8 584.1,226.1 586.5,223.5 588.9,218.6 591.3,219.7 593.7,220.7 596.1,222.2 598.5,229.0 600.9,222.8 603.2,215.2 605.6,218.2 606.5,226.7 606.5,238.5 414.7,238.5" fill="#fff" stroke="none"/><polyline points="414.7,164.3 417.1,170.8 419.5,181.1 421.8,180.4 424.2,175.2 426.6,175.7 429.0,176.7 431.4,183.1 433.8,170.9 436.2,171.3 438.6,184.9 440.9,185.7 443.3,185.5 445.7,183.5 448.1,179.8 450.5,185.4 452.9,187.4 455.3,180.4 457.6,178.3 460.0,184.6 462.4,187.0 464.8,190.5 467.2,181.0 469.6,174.8 472.0,181.9 474.4,190.7 476.7,198.5 479.1,197.0 481.5,198.6 483.9,187.7 486.3,180.3 488.7,182.9 491.1,189.1 493.5,191.6 495.8,195.5 498.2,193.7 500.6,193.2 503.0,198.7 505.4,207.0 507.8,198.2 510.2,195.3 512.5,199.1 514.9,195.6 517.3,197.1 519.7,205.7 522.1,199.1 524.5,202.4 526.9,206.0 529.3,203.1 531.6,205.9 534.0,207.6 536.4,210.0 538.8,211.1 541.2,213.0 543.6,212.7 546.0,215.3 548.3,214.6 550.7,206.8 553.1,208.4 555.5,207.3 557.9,203.6 560.3,208.5 562.7,215.8 565.1,219.8 567.4,213.9 569.8,212.0 572.2,212.1 574.6,217.2 577.0,223.0 579.4,227.5 581.8,221.8 584.1,226.1 586.5,223.5 588.9,218.6 591.3,219.7 593.7,220.7 596.1,222.2 598.5,229.0 600.9,222.8 603.2,215.2 605.6,218.2 606.5,226.7" stroke="#eb2828"/><polygon points="408.2,191.2 410.6,181.8 413.0,179.3 415.4,183.3 417.9,180.4 420.3,175.0 422.7,177.0 425.2,180.0 427.6,183.4 430.0,188.1 432.4,186.7 434.9,194.2 437.3,192.9 439.7,193.8 442.2,197.8 444.6,190.6 447.0,183.9 449.4,191.9 451.9,197.5 454.3,193.1 456.7,188.8 459.2,191.2 461.6,195.7 464.0,200.0 466.4,194.3 468.9,190.9 471.3,187.5 473.7,187.4 476.2,194.7 478.6,206.5 481.0,209.1 483.4,205.9 485.9,201.4 488.3,201.5 490.7,195.9 493.2,197.8 495.6,198.8 498.0,198.0 500.4,202.2 502.9,205.3 505.3,192.8 507.7,191.9 510.2,196.9 512.6,208.8 515.0,217.0 517.4,216.9 519.9,212.0 522.3,203.3 524.7,200.0 527.2,197.4 529.6,196.8 532.0,204.1 534.4,209.2 536.9,213.5 539.3,216.6 541.7,218.7 544.1,213.9 546.6,214.5 549.0,219.8 551.4,221.9 553.9,216.9 556.3,214.3 558.7,219.3 561.1,222.4 563.6,225.7 566.0,226.1 568.4,226.3 570.9,227.1 573.3,227.3 575.7,222.5 578.1,220.7 580.6,226.2 583.0,222.2 585.4,227.0 587.9,232.5 590.3,241.1 592.7,240.6 595.1,230.2 597.6,231.2 600.0,227.0 602.4,227.6 603.3,226.4 603.3,246.1 408.2,246.1" fill="#fff" stroke="none"/><polyline points="408.2,191.2 410.6,181.8 413.0,179.3 415.4,183.3 417.9,180.4 420.3,175.0 422.7,177.0 425.2,180.0 427.6,183.4 430.0,188.1 432.4,186.7 434.9,194.2 437.3,192.9 439.7,193.8 442.2,197.8 444.6,190.6 447.0,183.9 449.4,191.9 451.9,197.5 454.3,193.1 456.7,188.8 459.2,191.2 461.6,195.7 464.0,200.0 466.4,194.3 468.9,190.9 471.3,187.5 473.7,187.4 476.2,194.7 478.6,206.5 481.0,209.1 483.4,205.9 485.9,201.4 488.3,201.5 490.7,195.9 493.2,197.8 495.6,198.8 498.0,198.0 500.4,202.2 502.9,205.3 505.3,192.8 507.7,191.9 510.2,196.9 512.6,208.8 515.0,217.0 517.4,216.9 519.9,212.0 522.3,203.3 524.7,200.0 527.2,197.4 529.6,196.8 532.0,204.1 534.4,209.2 536.9,213.5 539.3,216.6 541.7,218.7 544.1,213.9 546.6,214.5 549.0,219.8 551.4,221.9 553.9,216.9 556.3,214.3 558.7,219.3 561.1,222.4 563.6,225.7 566.0,226.1 568.4,226.3 570.9,227.1 573.3,227.3 575.7,222.5 578.1,220.7 580.6,226.2 583.0,222.2 585.4,227.0 587.9,232.5 590.3,241.1 592.7,240.6 595.1,230.2 597.6,231.2 600.0,227.0 602.4,227.6 603.3,226.4" stroke="#eb2323"/><polygon points="401.5,187.3 404.0,183.9 406.5,187.0 409.0,191.7 411.4,185.9 413.9,185.1 416.4,186.2 418.8,186.0 421.3,183.2 423.8,182.4 426.2,193.1 428.7,192.4 431.2,189.0 433.7,198.3 436.1,197.6 438.6,199.2 441.1,197.6 443.5,198.5 446.0,207.7 448.5,208.4 451.0,207.7 453.4,204.3 455.9,201.9 458.4,196.5 460.8,199.9 463.3,196.4 465.8,202.1 468.2,203.2 470.7,203.8 473.2,206.6 475.7,210.2 478.1,205.9 480.6,204.3 483.1,204.8 485.5,205.9 488.0,211.4 490.5,212.2 493.0,215.1 495.4,217.7 497.9,211.9 500.4,212.9 502.8,208.9 505.3,201.1 507.8,207.3 510.2,209.9 512.7,205.9 515.2,203.3 517.7,204.5 520.1,211.1 522.6,207.9 525.1,215.6 527.5,223.7 530.0,222.1 532.5,214.1 535.0,212.8 537.4,215.2 539.9,224.5 542.4,227.7 544.8,233.1 547.3,236.1 549.8,227.4 552.2,219.2 554.7,223.0 557.2,230.2 559.7,227.3 562.1,231.2 564.6,229.5 567.1,228.0 569.5,233.9 572.0,235.9 574.5,231.4 576.9,233.7 579.4,235.2 581.9,232.1 584.4,233.6 586.8,234.6 589.3,237.5 591.8,234.8 594.2,239.3 596.7,241.9 599.2,243.5 600.1,233.9 600.1,253.8 401.5,253.8" fill="#fff" stroke="none"/><polyline points="401.5,187.3 404.0,183.9 406.5,187.0 409.0,191.7 411.4,185.9 413.9,185.1 416.4,186.2 418.8,186.0 421.3,183.2 423.8,182.4 426.2,193.1 428.7,192.4 431.2,189.0 433.7,198.3 436.1,197.6 438.6,199.2 441.1,197.6 443.5,198.5 446.0,207.7 448.5,208.4 451.0,207.7 453.4,204.3 455.9,201.9 458.4,196.5 460.8,199.9 463.3,196.4 465.8,202.1 468.2,203.2 470.7,203.8 473.2,206.6 475.7,210.2 478.1,205.9 480.6,204.3 483.1,204.8 485.5,205.9 488.0,211.4 490.5,212.2 493.0,215.1 495.4,217.7 497.9,211.9 500.4,212.9 502.8,208.9 505.3,201.1 507.8,207.3 510.2,209.9 512.7,205.9 515.2,203.3 517.7,204.5 520.1,211.1 522.6,207.9 525.1,215.6 527.5,223.7 530.0,222.1 532.5,214.1 535.0,212.8 537.4,215.2 539.9,224.5 542.4,227.7 544.8,233.1 547.3,236.1 549.8,227.4 552.2,219.2 554.7,223.0 557.2,230.2 559.7,227.3 562.1,231.2 564.6,229.5 567.1,228.0 569.5,233.9 572.0,235.9 574.5,231.4 576.9,233.7 579.4,235.2 581.9,232.1 584.4,233.6 586.8,234.6 589.3,237.5 591.8,234.8 594.2,239.3 596.7,241.9 599.2,243.5 600.1,233.9" stroke="#e61e1e"/>
</g>
<line x1="398" y1="157.6" x2="398" y2="257.4" stroke="#777" stroke-width="1.3"/>
<g opacity="0.88"><path d="M494.6,208.9L502.4,196.1 M507.9,187.0L515.8,174.2 M521.3,165.2L529.1,152.4 M534.6,143.3L542.4,130.5 M548.0,121.5L555.8,108.7 M561.3,99.6L569.1,86.8 M574.6,77.8L596.7,41.6" stroke="#6c6c6c" stroke-width="4.4" fill="none"/><polygon points="605.4,27.4 584.6,43.3 593.4,44.6 597.2,46.4 600.2,52.6" fill="#6c6c6c"/></g>

<line x1="398" y1="257.8" x2="598.8" y2="257.8" stroke="#333" stroke-width="1.2"/>
<line x1="598.8" y1="257.6" x2="659" y2="114" stroke="#3a3a3a" stroke-width="1.1"/>
<g stroke="#222"><line x1="407.5" y1="256.4" x2="407.5" y2="259.4" stroke-width="1.4"/><line x1="418.8" y1="254.1" x2="418.8" y2="261.7" stroke-width="1.5"/><line x1="430.1" y1="256.4" x2="430.1" y2="259.4" stroke-width="1.4"/><line x1="441.5" y1="254.1" x2="441.5" y2="261.7" stroke-width="1.5"/><line x1="452.8" y1="256.4" x2="452.8" y2="259.4" stroke-width="1.4"/><line x1="464.1" y1="254.1" x2="464.1" y2="261.7" stroke-width="1.5"/><line x1="475.4" y1="256.4" x2="475.4" y2="259.4" stroke-width="1.4"/><line x1="486.7" y1="254.1" x2="486.7" y2="261.7" stroke-width="1.5"/><line x1="498.1" y1="256.4" x2="498.1" y2="259.4" stroke-width="1.4"/><line x1="509.4" y1="254.1" x2="509.4" y2="261.7" stroke-width="1.5"/><line x1="520.7" y1="256.4" x2="520.7" y2="259.4" stroke-width="1.4"/><line x1="532.0" y1="254.1" x2="532.0" y2="261.7" stroke-width="1.5"/><line x1="543.3" y1="256.4" x2="543.3" y2="259.4" stroke-width="1.4"/><line x1="554.7" y1="254.1" x2="554.7" y2="261.7" stroke-width="1.5"/><line x1="566.0" y1="256.4" x2="566.0" y2="259.4" stroke-width="1.4"/><line x1="577.3" y1="254.1" x2="577.3" y2="261.7" stroke-width="1.5"/><line x1="588.6" y1="256.4" x2="588.6" y2="259.4" stroke-width="1.4"/></g>
<g stroke="#444" stroke-width="0.9"><line x1="599.0" y1="257.0" x2="601.8" y2="257.0"/><line x1="600.9" y1="252.3" x2="603.7" y2="252.3"/><line x1="602.9" y1="247.7" x2="605.7" y2="247.7"/><line x1="604.8" y1="243.1" x2="609.6" y2="243.1"/><line x1="606.7" y1="238.5" x2="609.5" y2="238.5"/><line x1="608.6" y1="234.0" x2="611.4" y2="234.0"/><line x1="610.5" y1="229.5" x2="613.3" y2="229.5"/><line x1="612.4" y1="225.1" x2="615.2" y2="225.1"/><line x1="614.2" y1="220.7" x2="617.0" y2="220.7"/><line x1="616.1" y1="216.3" x2="618.9" y2="216.3"/><line x1="617.9" y1="212.0" x2="620.7" y2="212.0"/><line x1="619.7" y1="207.7" x2="622.5" y2="207.7"/><line x1="621.5" y1="203.4" x2="624.3" y2="203.4"/><line x1="623.2" y1="199.2" x2="626.0" y2="199.2"/><line x1="625.0" y1="195.1" x2="627.8" y2="195.1"/><line x1="626.7" y1="190.9" x2="629.5" y2="190.9"/><line x1="628.4" y1="186.9" x2="631.2" y2="186.9"/><line x1="630.1" y1="182.8" x2="632.9" y2="182.8"/><line x1="631.8" y1="178.8" x2="634.6" y2="178.8"/><line x1="633.5" y1="174.8" x2="636.3" y2="174.8"/><line x1="635.1" y1="170.9" x2="637.9" y2="170.9"/><line x1="636.8" y1="167.0" x2="639.6" y2="167.0"/><line x1="638.4" y1="163.1" x2="641.2" y2="163.1"/><line x1="640.0" y1="159.3" x2="642.8" y2="159.3"/><line x1="641.6" y1="155.5" x2="644.4" y2="155.5"/><line x1="643.1" y1="151.8" x2="645.9" y2="151.8"/><line x1="644.7" y1="148.1" x2="647.5" y2="148.1"/><line x1="646.2" y1="144.5" x2="649.0" y2="144.5"/><line x1="647.7" y1="140.8" x2="650.5" y2="140.8"/><line x1="649.2" y1="137.3" x2="652.0" y2="137.3"/><line x1="650.7" y1="133.7" x2="653.5" y2="133.7"/><line x1="652.2" y1="130.2" x2="655.0" y2="130.2"/><line x1="653.7" y1="126.7" x2="656.5" y2="126.7"/><line x1="655.1" y1="123.3" x2="657.9" y2="123.3"/><line x1="656.5" y1="119.9" x2="659.3" y2="119.9"/><line x1="657.9" y1="116.6" x2="662.7" y2="116.6"/></g>
<text transform="matrix(0.25,-0.76,1.0,0,657.5,203)" font-size="17">Time</text><text transform="matrix(0.19,-0.56,1.15,0,669,170.5)" font-size="15">(min)</text>
<g transform="matrix(0.9009,0,0,1.0017,-89.35,-112.66)"><text x="100" y="150" font-size="41">a</text></g>
<g transform="matrix(1.0353,0,0,0.9717,238.93,-107.06)"><text x="100" y="150" font-size="39">b</text></g>
<g transform="matrix(0.9888,0,0,0.9750,-12.14,-71.55)"><text fill="#0000ff" x="100" y="150" font-size="16">T = 800°C</text></g>
<g transform="matrix(0.9874,0,0,0.9750,-12.10,81.05)"><text fill="#ff0000" x="100" y="150" font-size="16">T = 700°C</text></g>
<g transform="matrix(1.0550,0,0,0.9007,74.93,-72.21)"><text x="100" y="150" class="sf" font-size="21">θ</text></g>
<g transform="matrix(1.0550,0,0,0.9007,453.53,-117.61)"><text x="100" y="150" class="sf" font-size="21">θ</text></g>
<g transform="matrix(1.0074,0,0,0.9819,92.02,-84.58)"><text x="100" y="150" font-size="21" font-style="italic">/</text></g>
<g transform="matrix(1.0074,0,0,0.9819,470.62,-129.98)"><text x="100" y="150" font-size="21" font-style="italic">/</text></g>
<g transform="matrix(1.2804,0,0,1.0267,73.71,-91.43)"><text x="100" y="150" class="sf" font-size="22" font-style="italic">γ</text></g>
<g transform="matrix(1.2804,0,0,1.0267,452.31,-136.83)"><text x="100" y="150" class="sf" font-size="22" font-style="italic">γ</text></g>
<g transform="matrix(0.9269,0,0,1.1046,122.66,-101.30)"><text x="100" y="150" font-size="21">-</text></g>
<g transform="matrix(0.9269,0,0,1.1046,501.26,-146.70)"><text x="100" y="150" font-size="21">-</text></g>
<g transform="matrix(1.1439,0,0,1.0591,107.12,-95.87)"><text x="100" y="150" font-size="21">A</text></g>
<g transform="matrix(1.1439,0,0,1.0591,485.72,-141.27)"><text x="100" y="150" font-size="21">A</text></g>
<g transform="matrix(1.0112,0,0,0.9351,136.97,-77.06)"><text x="100" y="150" font-size="21">l</text></g>
<g transform="matrix(1.0112,0,0,0.9351,515.57,-122.46)"><text x="100" y="150" font-size="21">l</text></g>
<g transform="matrix(1.1178,0,0,0.9577,132.46,-72.24)"><text x="100" y="150" font-size="11.5">2</text></g>
<g transform="matrix(1.0983,0,0,0.8744,513.20,-104.96)"><text x="100" y="150" font-size="11.5">2</text></g>
<g transform="matrix(1.0636,0,0,0.9934,144.58,-85.72)"><text x="100" y="150" font-size="21">O</text></g>
<g transform="matrix(1.0636,0,0,0.9934,523.18,-131.12)"><text x="100" y="150" font-size="21">O</text></g>
<g transform="matrix(1.1942,0,0,0.9619,148.22,-72.88)"><text x="100" y="150" font-size="11.5">3</text></g>
<g transform="matrix(1.1942,0,0,0.9619,526.82,-118.28)"><text x="100" y="150" font-size="11.5">3</text></g>
<g transform="matrix(1.0387,0,0,0.9563,-45.48,124.68)"><text x="100" y="150" font-size="15.5">20</text></g>
<g transform="matrix(1.0323,0,0,0.9555,13.61,124.81)"><text x="100" y="150" font-size="15.5">30</text></g>
<g transform="matrix(1.0052,0,0,0.9547,75.70,124.93)"><text x="100" y="150" font-size="15.5">40</text></g>
<g transform="matrix(1.0430,0,0,0.9541,130.86,125.02)"><text x="100" y="150" font-size="15.5">50</text></g>
<g transform="matrix(1.0354,0,0,0.9570,190.55,124.59)"><text x="100" y="150" font-size="15.5">60</text></g>
<g transform="matrix(1.0284,0,0,1.0860,26.02,125.79)"><text x="100" y="150" font-size="21">2</text></g>
<g transform="matrix(1.1418,0,0,0.9881,25.81,140.40)"><text x="100" y="150" class="sf" style="font-weight:normal" font-size="21">θ</text></g>
<g transform="matrix(0.9963,0,0,0.9727,59.35,141.89)"><text x="100" y="150" font-size="21">(degree)</text></g>
<g transform="rotate(-90)"><g transform="matrix(1.0275,0,0,1.0253,-327.81,-99.20)"><text x="100" y="150" font-size="21">Intensity (A.U.)</text></g></g>
<g transform="matrix(0.9899,0,0,0.9397,352.68,147.34)"><text x="100" y="150" font-size="17.5">2</text></g>
<g transform="matrix(1.2394,0,0,0.9957,336.97,139.24)"><text x="100" y="150" class="sf" style="font-weight:normal" font-size="17.5">θ</text></g>
<g transform="matrix(1.0291,0,0,1.0744,374.46,127.42)"><text x="100" y="150" font-size="17.5">(degree)</text></g>
<g transform="rotate(-90)"><g transform="matrix(1.0195,0,0,1.0059,-371.73,233.69)"><text x="100" y="150" font-size="18">Intensity (A.U.)</text></g></g>
<g transform="matrix(0.9873,0,0,0.8804,314.32,142.25)"><text x="100" y="150" font-size="11.5">42</text></g>
<g transform="matrix(0.9881,0,0,0.8837,336.84,141.77)"><text x="100" y="150" font-size="11.5">43</text></g>
<g transform="matrix(0.9710,0,0,0.8704,360.97,143.99)"><text x="100" y="150" font-size="11.5">44</text></g>
<g transform="matrix(0.9777,0,0,0.8734,383.18,143.32)"><text x="100" y="150" font-size="11.5">45</text></g>
<g transform="matrix(0.9889,0,0,0.8989,404.67,139.58)"><text x="100" y="150" font-size="11.5">46</text></g>
<g transform="matrix(0.9893,0,0,0.9233,427.03,136.22)"><text x="100" y="150" font-size="11.5">47</text></g>
<g transform="matrix(0.9860,0,0,0.9241,450.09,136.09)"><text x="100" y="150" font-size="11.5">48</text></g>
<g transform="matrix(0.9901,0,0,0.9032,472.45,139.01)"><text x="100" y="150" font-size="11.5">49</text></g>
<g transform="matrix(0.9975,0,0,0.9615,510.92,102.98)"><text x="100" y="150" font-size="11.5">0</text></g>
<g transform="matrix(0.9846,0,0,1.0265,565.53,-33.18)"><text x="100" y="150" font-size="11.5">120</text></g>
</svg>
</body></html>
